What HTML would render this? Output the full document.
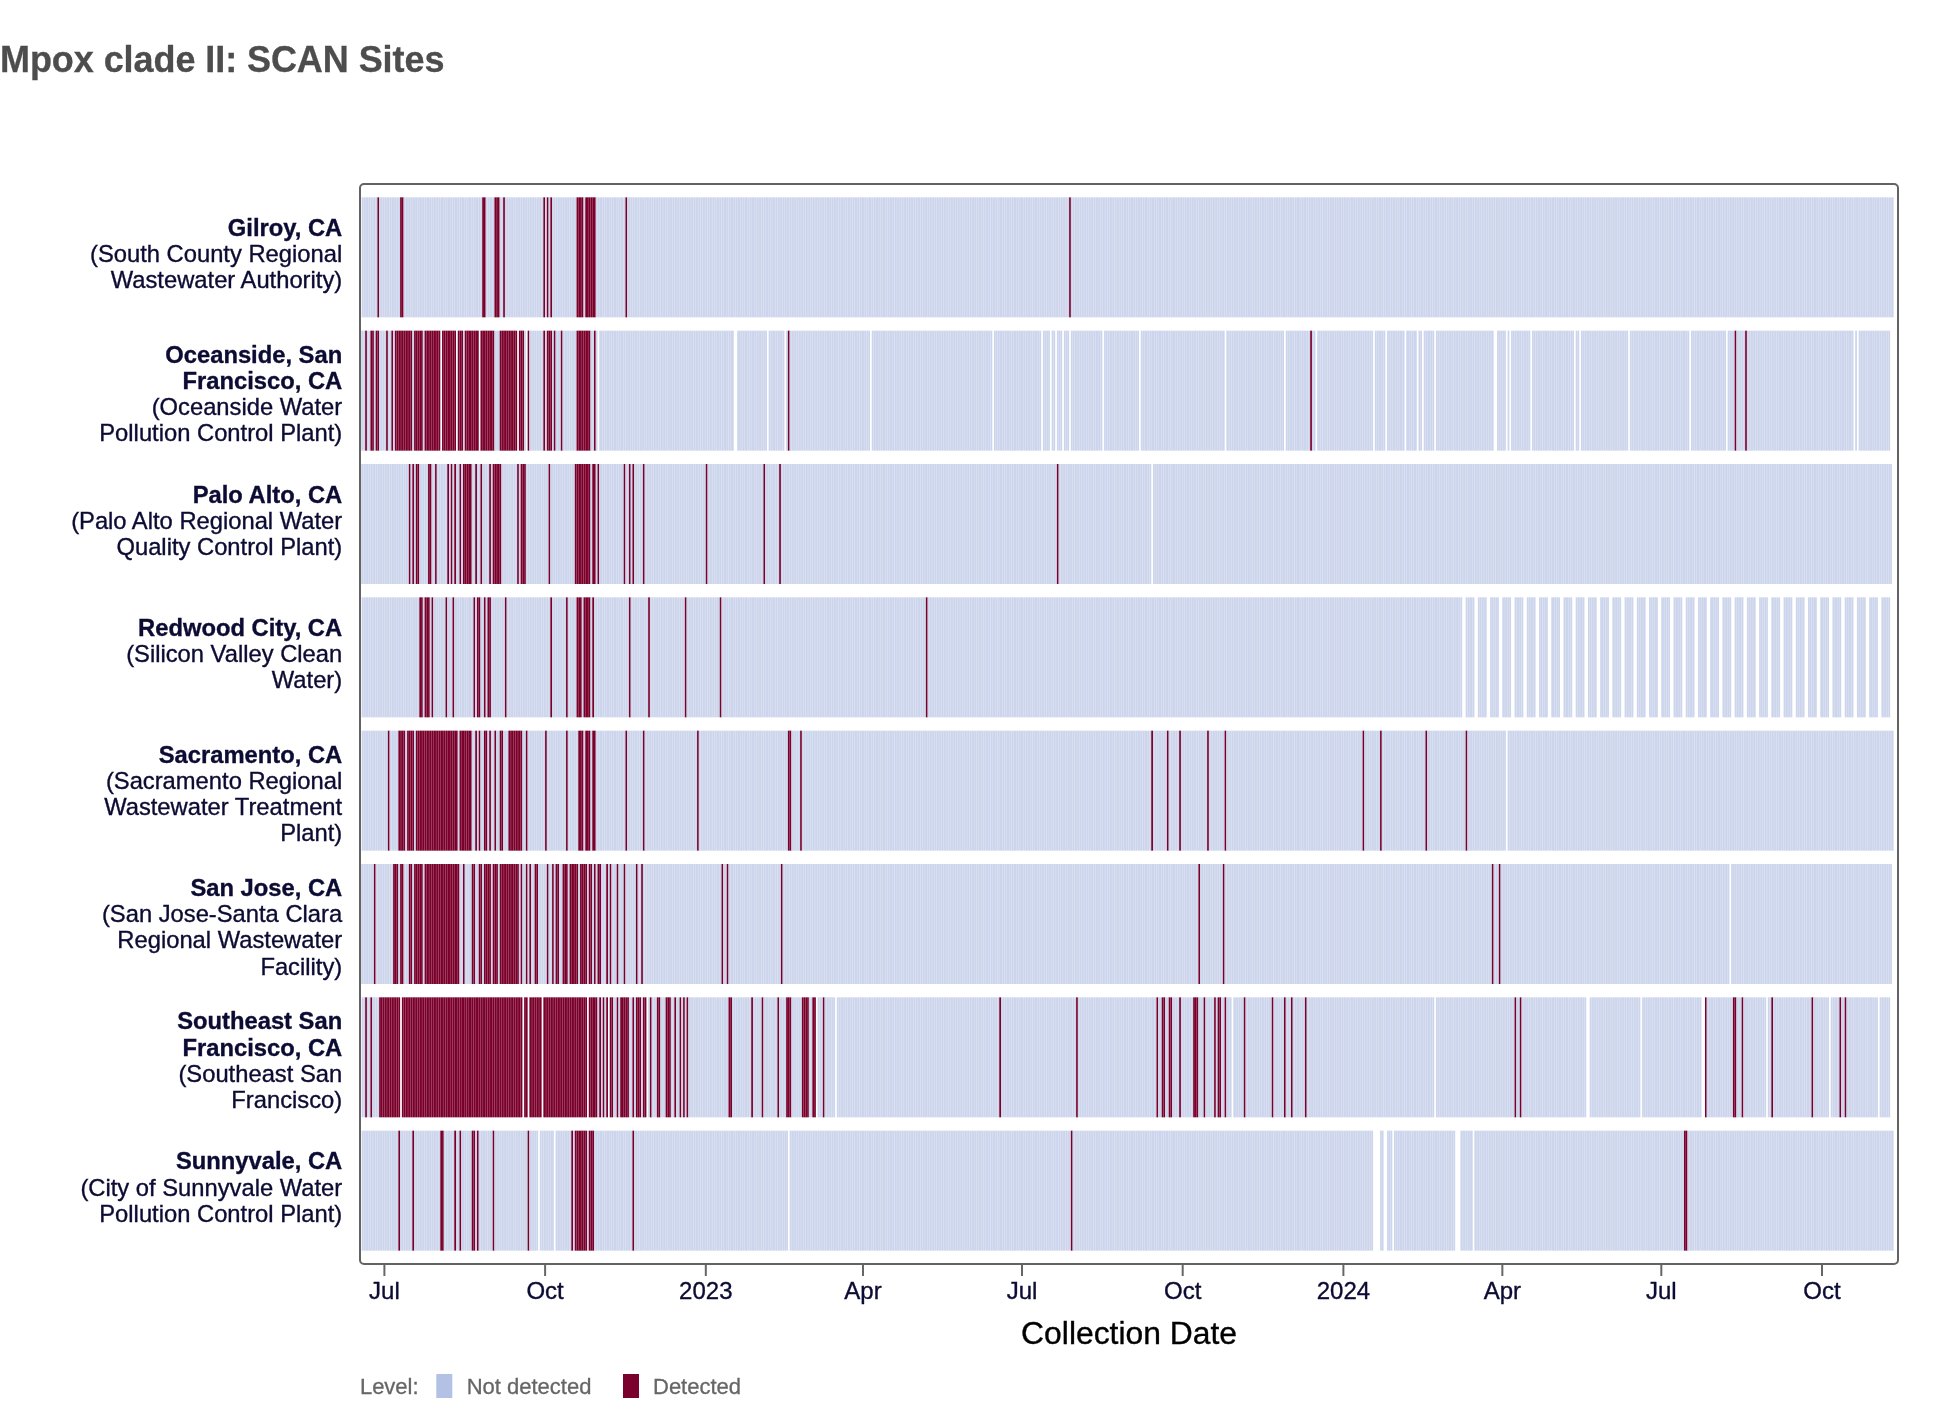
<!DOCTYPE html>
<html lang="en"><head><meta charset="utf-8"><title>Mpox clade II: SCAN Sites</title>
<style>
html,body{margin:0;padding:0;background:#fff}
body{width:1938px;height:1414px;overflow:hidden;position:relative;font-family:"Liberation Sans",sans-serif}
svg{position:absolute;left:0;top:0;display:block;will-change:transform;font-family:"Liberation Sans",sans-serif}
h1{will-change:transform;position:absolute;left:0.2px;top:39.4px;letter-spacing:-.07px;margin:0;font-size:36px;line-height:42px;font-weight:700;color:#4d4d4d;white-space:nowrap;-webkit-text-stroke:.3px #4d4d4d}
.c rect{width:1.7468px;height:120px;fill:#ccd5ec}
.c .d{fill:#7a002b}
.lab text{font-size:23.76px;fill:#0b0b33;text-anchor:end;stroke:#0b0b33;stroke-width:.35px}
.lab .b{font-weight:700}
.tk text{font-size:24px;fill:#0b0b33;text-anchor:middle;stroke:#0b0b33;stroke-width:.35px}
.tk line{stroke:#666;stroke-width:2}
.leg text{font-size:22px;fill:#666;stroke:#666;stroke-width:.3px}
</style></head>
<body>
<h1>Mpox clade II: SCAN Sites</h1>
<svg width="1938" height="1414" viewBox="0 0 1938 1414">
<g class="c" transform="translate(0,197.33)"><rect x="361.69"/><rect x="363.44"/><rect x="365.18"/><rect x="366.93"/><rect x="368.68"/><rect x="370.42"/><rect x="372.17"/><rect x="373.92"/><rect x="375.66"/><rect class="d" x="377.41"/><rect x="379.16"/><rect x="380.9"/><rect x="382.65"/><rect x="384.4"/><rect x="386.15"/><rect x="387.89"/><rect x="389.64"/><rect x="391.39"/><rect x="393.13"/><rect x="394.88"/><rect x="396.63"/><rect x="398.37"/><rect class="d" x="400.12"/><rect class="d" x="401.87"/><rect x="403.61"/><rect x="405.36"/><rect x="407.11"/><rect x="408.85"/><rect x="410.6"/><rect x="412.35"/><rect x="414.09"/><rect x="415.84"/><rect x="417.59"/><rect x="419.33"/><rect x="421.08"/><rect x="422.83"/><rect x="424.57"/><rect x="426.32"/><rect x="428.07"/><rect x="429.82"/><rect x="431.56"/><rect x="433.31"/><rect x="435.06"/><rect x="436.8"/><rect x="438.55"/><rect x="440.3"/><rect x="442.04"/><rect x="443.79"/><rect x="445.54"/><rect x="447.28"/><rect x="449.03"/><rect x="450.78"/><rect x="452.52"/><rect x="454.27"/><rect x="456.02"/><rect x="457.76"/><rect x="459.51"/><rect x="461.26"/><rect x="463"/><rect x="464.75"/><rect x="466.5"/><rect x="468.24"/><rect x="469.99"/><rect x="471.74"/><rect x="473.49"/><rect x="475.23"/><rect x="476.98"/><rect x="478.73"/><rect x="480.47"/><rect class="d" x="482.22"/><rect class="d" x="483.97"/><rect x="485.71"/><rect x="487.46"/><rect x="489.21"/><rect x="490.95"/><rect x="492.7"/><rect class="d" x="494.45"/><rect class="d" x="496.19"/><rect class="d" x="497.94"/><rect x="499.69"/><rect x="501.43"/><rect class="d" x="503.18"/><rect x="504.93"/><rect x="506.67"/><rect x="508.42"/><rect x="510.17"/><rect x="511.91"/><rect x="513.66"/><rect x="515.41"/><rect x="517.16"/><rect x="518.9"/><rect x="520.65"/><rect x="522.4"/><rect x="524.14"/><rect x="525.89"/><rect x="527.64"/><rect x="529.38"/><rect x="531.13"/><rect x="532.88"/><rect x="534.62"/><rect x="536.37"/><rect x="538.12"/><rect x="539.86"/><rect x="541.61"/><rect class="d" x="543.36"/><rect x="545.1"/><rect class="d" x="546.85"/><rect x="548.6"/><rect class="d" x="550.34"/><rect x="552.09"/><rect x="553.84"/><rect x="555.58"/><rect x="557.33"/><rect x="559.08"/><rect x="560.83"/><rect x="562.57"/><rect x="564.32"/><rect x="566.07"/><rect x="567.81"/><rect x="569.56"/><rect x="571.31"/><rect x="573.05"/><rect x="574.8"/><rect class="d" x="576.55"/><rect class="d" x="578.29"/><rect class="d" x="580.04"/><rect class="d" x="581.79"/><rect x="583.53"/><rect class="d" x="585.28"/><rect class="d" x="587.03"/><rect class="d" x="588.77"/><rect class="d" x="590.52"/><rect class="d" x="592.27"/><rect class="d" x="594.01"/><rect x="595.76"/><rect x="597.51"/><rect x="599.25"/><rect x="601"/><rect x="602.75"/><rect x="604.5"/><rect x="606.24"/><rect x="607.99"/><rect x="609.74"/><rect x="611.48"/><rect x="613.23"/><rect x="614.98"/><rect x="616.72"/><rect x="618.47"/><rect x="620.22"/><rect x="621.96"/><rect x="623.71"/><rect class="d" x="625.46"/><rect x="627.2"/><rect x="628.95"/><rect x="630.7"/><rect x="632.44"/><rect x="634.19"/><rect x="635.94"/><rect x="637.68"/><rect x="639.43"/><rect x="641.18"/><rect x="642.92"/><rect x="644.67"/><rect x="646.42"/><rect x="648.17"/><rect x="649.91"/><rect x="651.66"/><rect x="653.41"/><rect x="655.15"/><rect x="656.9"/><rect x="658.65"/><rect x="660.39"/><rect x="662.14"/><rect x="663.89"/><rect x="665.63"/><rect x="667.38"/><rect x="669.13"/><rect x="670.87"/><rect x="672.62"/><rect x="674.37"/><rect x="676.11"/><rect x="677.86"/><rect x="679.61"/><rect x="681.35"/><rect x="683.1"/><rect x="684.85"/><rect x="686.59"/><rect x="688.34"/><rect x="690.09"/><rect x="691.84"/><rect x="693.58"/><rect x="695.33"/><rect x="697.08"/><rect x="698.82"/><rect x="700.57"/><rect x="702.32"/><rect x="704.06"/><rect x="705.81"/><rect x="707.56"/><rect x="709.3"/><rect x="711.05"/><rect x="712.8"/><rect x="714.54"/><rect x="716.29"/><rect x="718.04"/><rect x="719.78"/><rect x="721.53"/><rect x="723.28"/><rect x="725.02"/><rect x="726.77"/><rect x="728.52"/><rect x="730.26"/><rect x="732.01"/><rect x="733.76"/><rect x="735.51"/><rect x="737.25"/><rect x="739"/><rect x="740.75"/><rect x="742.49"/><rect x="744.24"/><rect x="745.99"/><rect x="747.73"/><rect x="749.48"/><rect x="751.23"/><rect x="752.97"/><rect x="754.72"/><rect x="756.47"/><rect x="758.21"/><rect x="759.96"/><rect x="761.71"/><rect x="763.45"/><rect x="765.2"/><rect x="766.95"/><rect x="768.69"/><rect x="770.44"/><rect x="772.19"/><rect x="773.93"/><rect x="775.68"/><rect x="777.43"/><rect x="779.18"/><rect x="780.92"/><rect x="782.67"/><rect x="784.42"/><rect x="786.16"/><rect x="787.91"/><rect x="789.66"/><rect x="791.4"/><rect x="793.15"/><rect x="794.9"/><rect x="796.64"/><rect x="798.39"/><rect x="800.14"/><rect x="801.88"/><rect x="803.63"/><rect x="805.38"/><rect x="807.12"/><rect x="808.87"/><rect x="810.62"/><rect x="812.36"/><rect x="814.11"/><rect x="815.86"/><rect x="817.6"/><rect x="819.35"/><rect x="821.1"/><rect x="822.85"/><rect x="824.59"/><rect x="826.34"/><rect x="828.09"/><rect x="829.83"/><rect x="831.58"/><rect x="833.33"/><rect x="835.07"/><rect x="836.82"/><rect x="838.57"/><rect x="840.31"/><rect x="842.06"/><rect x="843.81"/><rect x="845.55"/><rect x="847.3"/><rect x="849.05"/><rect x="850.79"/><rect x="852.54"/><rect x="854.29"/><rect x="856.03"/><rect x="857.78"/><rect x="859.53"/><rect x="861.27"/><rect x="863.02"/><rect x="864.77"/><rect x="866.52"/><rect x="868.26"/><rect x="870.01"/><rect x="871.76"/><rect x="873.5"/><rect x="875.25"/><rect x="877"/><rect x="878.74"/><rect x="880.49"/><rect x="882.24"/><rect x="883.98"/><rect x="885.73"/><rect x="887.48"/><rect x="889.22"/><rect x="890.97"/><rect x="892.72"/><rect x="894.46"/><rect x="896.21"/><rect x="897.96"/><rect x="899.7"/><rect x="901.45"/><rect x="903.2"/><rect x="904.94"/><rect x="906.69"/><rect x="908.44"/><rect x="910.19"/><rect x="911.93"/><rect x="913.68"/><rect x="915.43"/><rect x="917.17"/><rect x="918.92"/><rect x="920.67"/><rect x="922.41"/><rect x="924.16"/><rect x="925.91"/><rect x="927.65"/><rect x="929.4"/><rect x="931.15"/><rect x="932.89"/><rect x="934.64"/><rect x="936.39"/><rect x="938.13"/><rect x="939.88"/><rect x="941.63"/><rect x="943.37"/><rect x="945.12"/><rect x="946.87"/><rect x="948.61"/><rect x="950.36"/><rect x="952.11"/><rect x="953.86"/><rect x="955.6"/><rect x="957.35"/><rect x="959.1"/><rect x="960.84"/><rect x="962.59"/><rect x="964.34"/><rect x="966.08"/><rect x="967.83"/><rect x="969.58"/><rect x="971.32"/><rect x="973.07"/><rect x="974.82"/><rect x="976.56"/><rect x="978.31"/><rect x="980.06"/><rect x="981.8"/><rect x="983.55"/><rect x="985.3"/><rect x="987.04"/><rect x="988.79"/><rect x="990.54"/><rect x="992.28"/><rect x="994.03"/><rect x="995.78"/><rect x="997.53"/><rect x="999.27"/><rect x="1001.02"/><rect x="1002.77"/><rect x="1004.51"/><rect x="1006.26"/><rect x="1008.01"/><rect x="1009.75"/><rect x="1011.5"/><rect x="1013.25"/><rect x="1014.99"/><rect x="1016.74"/><rect x="1018.49"/><rect x="1020.23"/><rect x="1021.98"/><rect x="1023.73"/><rect x="1025.47"/><rect x="1027.22"/><rect x="1028.97"/><rect x="1030.71"/><rect x="1032.46"/><rect x="1034.21"/><rect x="1035.95"/><rect x="1037.7"/><rect x="1039.45"/><rect x="1041.2"/><rect x="1042.94"/><rect x="1044.69"/><rect x="1046.44"/><rect x="1048.18"/><rect x="1049.93"/><rect x="1051.68"/><rect x="1053.42"/><rect x="1055.17"/><rect x="1056.92"/><rect x="1058.66"/><rect x="1060.41"/><rect x="1062.16"/><rect x="1063.9"/><rect x="1065.65"/><rect x="1067.4"/><rect class="d" x="1069.14"/><rect x="1070.89"/><rect x="1072.64"/><rect x="1074.38"/><rect x="1076.13"/><rect x="1077.88"/><rect x="1079.62"/><rect x="1081.37"/><rect x="1083.12"/><rect x="1084.87"/><rect x="1086.61"/><rect x="1088.36"/><rect x="1090.11"/><rect x="1091.85"/><rect x="1093.6"/><rect x="1095.35"/><rect x="1097.09"/><rect x="1098.84"/><rect x="1100.59"/><rect x="1102.33"/><rect x="1104.08"/><rect x="1105.83"/><rect x="1107.57"/><rect x="1109.32"/><rect x="1111.07"/><rect x="1112.81"/><rect x="1114.56"/><rect x="1116.31"/><rect x="1118.05"/><rect x="1119.8"/><rect x="1121.55"/><rect x="1123.29"/><rect x="1125.04"/><rect x="1126.79"/><rect x="1128.54"/><rect x="1130.28"/><rect x="1132.03"/><rect x="1133.78"/><rect x="1135.52"/><rect x="1137.27"/><rect x="1139.02"/><rect x="1140.76"/><rect x="1142.51"/><rect x="1144.26"/><rect x="1146"/><rect x="1147.75"/><rect x="1149.5"/><rect x="1151.24"/><rect x="1152.99"/><rect x="1154.74"/><rect x="1156.48"/><rect x="1158.23"/><rect x="1159.98"/><rect x="1161.72"/><rect x="1163.47"/><rect x="1165.22"/><rect x="1166.96"/><rect x="1168.71"/><rect x="1170.46"/><rect x="1172.21"/><rect x="1173.95"/><rect x="1175.7"/><rect x="1177.45"/><rect x="1179.19"/><rect x="1180.94"/><rect x="1182.69"/><rect x="1184.43"/><rect x="1186.18"/><rect x="1187.93"/><rect x="1189.67"/><rect x="1191.42"/><rect x="1193.17"/><rect x="1194.91"/><rect x="1196.66"/><rect x="1198.41"/><rect x="1200.15"/><rect x="1201.9"/><rect x="1203.65"/><rect x="1205.39"/><rect x="1207.14"/><rect x="1208.89"/><rect x="1210.63"/><rect x="1212.38"/><rect x="1214.13"/><rect x="1215.88"/><rect x="1217.62"/><rect x="1219.37"/><rect x="1221.12"/><rect x="1222.86"/><rect x="1224.61"/><rect x="1226.36"/><rect x="1228.1"/><rect x="1229.85"/><rect x="1231.6"/><rect x="1233.34"/><rect x="1235.09"/><rect x="1236.84"/><rect x="1238.58"/><rect x="1240.33"/><rect x="1242.08"/><rect x="1243.82"/><rect x="1245.57"/><rect x="1247.32"/><rect x="1249.06"/><rect x="1250.81"/><rect x="1252.56"/><rect x="1254.3"/><rect x="1256.05"/><rect x="1257.8"/><rect x="1259.55"/><rect x="1261.29"/><rect x="1263.04"/><rect x="1264.79"/><rect x="1266.53"/><rect x="1268.28"/><rect x="1270.03"/><rect x="1271.77"/><rect x="1273.52"/><rect x="1275.27"/><rect x="1277.01"/><rect x="1278.76"/><rect x="1280.51"/><rect x="1282.25"/><rect x="1284"/><rect x="1285.75"/><rect x="1287.49"/><rect x="1289.24"/><rect x="1290.99"/><rect x="1292.73"/><rect x="1294.48"/><rect x="1296.23"/><rect x="1297.97"/><rect x="1299.72"/><rect x="1301.47"/><rect x="1303.22"/><rect x="1304.96"/><rect x="1306.71"/><rect x="1308.46"/><rect x="1310.2"/><rect x="1311.95"/><rect x="1313.7"/><rect x="1315.44"/><rect x="1317.19"/><rect x="1318.94"/><rect x="1320.68"/><rect x="1322.43"/><rect x="1324.18"/><rect x="1325.92"/><rect x="1327.67"/><rect x="1329.42"/><rect x="1331.16"/><rect x="1332.91"/><rect x="1334.66"/><rect x="1336.4"/><rect x="1338.15"/><rect x="1339.9"/><rect x="1341.64"/><rect x="1343.39"/><rect x="1345.14"/><rect x="1346.89"/><rect x="1348.63"/><rect x="1350.38"/><rect x="1352.13"/><rect x="1353.87"/><rect x="1355.62"/><rect x="1357.37"/><rect x="1359.11"/><rect x="1360.86"/><rect x="1362.61"/><rect x="1364.35"/><rect x="1366.1"/><rect x="1367.85"/><rect x="1369.59"/><rect x="1371.34"/><rect x="1373.09"/><rect x="1374.83"/><rect x="1376.58"/><rect x="1378.33"/><rect x="1380.07"/><rect x="1381.82"/><rect x="1383.57"/><rect x="1385.31"/><rect x="1387.06"/><rect x="1388.81"/><rect x="1390.56"/><rect x="1392.3"/><rect x="1394.05"/><rect x="1395.8"/><rect x="1397.54"/><rect x="1399.29"/><rect x="1401.04"/><rect x="1402.78"/><rect x="1404.53"/><rect x="1406.28"/><rect x="1408.02"/><rect x="1409.77"/><rect x="1411.52"/><rect x="1413.26"/><rect x="1415.01"/><rect x="1416.76"/><rect x="1418.5"/><rect x="1420.25"/><rect x="1422"/><rect x="1423.74"/><rect x="1425.49"/><rect x="1427.24"/><rect x="1428.98"/><rect x="1430.73"/><rect x="1432.48"/><rect x="1434.23"/><rect x="1435.97"/><rect x="1437.72"/><rect x="1439.47"/><rect x="1441.21"/><rect x="1442.96"/><rect x="1444.71"/><rect x="1446.45"/><rect x="1448.2"/><rect x="1449.95"/><rect x="1451.69"/><rect x="1453.44"/><rect x="1455.19"/><rect x="1456.93"/><rect x="1458.68"/><rect x="1460.43"/><rect x="1462.17"/><rect x="1463.92"/><rect x="1465.67"/><rect x="1467.41"/><rect x="1469.16"/><rect x="1470.91"/><rect x="1472.65"/><rect x="1474.4"/><rect x="1476.15"/><rect x="1477.9"/><rect x="1479.64"/><rect x="1481.39"/><rect x="1483.14"/><rect x="1484.88"/><rect x="1486.63"/><rect x="1488.38"/><rect x="1490.12"/><rect x="1491.87"/><rect x="1493.62"/><rect x="1495.36"/><rect x="1497.11"/><rect x="1498.86"/><rect x="1500.6"/><rect x="1502.35"/><rect x="1504.1"/><rect x="1505.84"/><rect x="1507.59"/><rect x="1509.34"/><rect x="1511.08"/><rect x="1512.83"/><rect x="1514.58"/><rect x="1516.32"/><rect x="1518.07"/><rect x="1519.82"/><rect x="1521.57"/><rect x="1523.31"/><rect x="1525.06"/><rect x="1526.81"/><rect x="1528.55"/><rect x="1530.3"/><rect x="1532.05"/><rect x="1533.79"/><rect x="1535.54"/><rect x="1537.29"/><rect x="1539.03"/><rect x="1540.78"/><rect x="1542.53"/><rect x="1544.27"/><rect x="1546.02"/><rect x="1547.77"/><rect x="1549.51"/><rect x="1551.26"/><rect x="1553.01"/><rect x="1554.75"/><rect x="1556.5"/><rect x="1558.25"/><rect x="1559.99"/><rect x="1561.74"/><rect x="1563.49"/><rect x="1565.24"/><rect x="1566.98"/><rect x="1568.73"/><rect x="1570.48"/><rect x="1572.22"/><rect x="1573.97"/><rect x="1575.72"/><rect x="1577.46"/><rect x="1579.21"/><rect x="1580.96"/><rect x="1582.7"/><rect x="1584.45"/><rect x="1586.2"/><rect x="1587.94"/><rect x="1589.69"/><rect x="1591.44"/><rect x="1593.18"/><rect x="1594.93"/><rect x="1596.68"/><rect x="1598.42"/><rect x="1600.17"/><rect x="1601.92"/><rect x="1603.66"/><rect x="1605.41"/><rect x="1607.16"/><rect x="1608.91"/><rect x="1610.65"/><rect x="1612.4"/><rect x="1614.15"/><rect x="1615.89"/><rect x="1617.64"/><rect x="1619.39"/><rect x="1621.13"/><rect x="1622.88"/><rect x="1624.63"/><rect x="1626.37"/><rect x="1628.12"/><rect x="1629.87"/><rect x="1631.61"/><rect x="1633.36"/><rect x="1635.11"/><rect x="1636.85"/><rect x="1638.6"/><rect x="1640.35"/><rect x="1642.09"/><rect x="1643.84"/><rect x="1645.59"/><rect x="1647.33"/><rect x="1649.08"/><rect x="1650.83"/><rect x="1652.58"/><rect x="1654.32"/><rect x="1656.07"/><rect x="1657.82"/><rect x="1659.56"/><rect x="1661.31"/><rect x="1663.06"/><rect x="1664.8"/><rect x="1666.55"/><rect x="1668.3"/><rect x="1670.04"/><rect x="1671.79"/><rect x="1673.54"/><rect x="1675.28"/><rect x="1677.03"/><rect x="1678.78"/><rect x="1680.52"/><rect x="1682.27"/><rect x="1684.02"/><rect x="1685.76"/><rect x="1687.51"/><rect x="1689.26"/><rect x="1691"/><rect x="1692.75"/><rect x="1694.5"/><rect x="1696.25"/><rect x="1697.99"/><rect x="1699.74"/><rect x="1701.49"/><rect x="1703.23"/><rect x="1704.98"/><rect x="1706.73"/><rect x="1708.47"/><rect x="1710.22"/><rect x="1711.97"/><rect x="1713.71"/><rect x="1715.46"/><rect x="1717.21"/><rect x="1718.95"/><rect x="1720.7"/><rect x="1722.45"/><rect x="1724.19"/><rect x="1725.94"/><rect x="1727.69"/><rect x="1729.43"/><rect x="1731.18"/><rect x="1732.93"/><rect x="1734.67"/><rect x="1736.42"/><rect x="1738.17"/><rect x="1739.92"/><rect x="1741.66"/><rect x="1743.41"/><rect x="1745.16"/><rect x="1746.9"/><rect x="1748.65"/><rect x="1750.4"/><rect x="1752.14"/><rect x="1753.89"/><rect x="1755.64"/><rect x="1757.38"/><rect x="1759.13"/><rect x="1760.88"/><rect x="1762.62"/><rect x="1764.37"/><rect x="1766.12"/><rect x="1767.86"/><rect x="1769.61"/><rect x="1771.36"/><rect x="1773.1"/><rect x="1774.85"/><rect x="1776.6"/><rect x="1778.34"/><rect x="1780.09"/><rect x="1781.84"/><rect x="1783.59"/><rect x="1785.33"/><rect x="1787.08"/><rect x="1788.83"/><rect x="1790.57"/><rect x="1792.32"/><rect x="1794.07"/><rect x="1795.81"/><rect x="1797.56"/><rect x="1799.31"/><rect x="1801.05"/><rect x="1802.8"/><rect x="1804.55"/><rect x="1806.29"/><rect x="1808.04"/><rect x="1809.79"/><rect x="1811.53"/><rect x="1813.28"/><rect x="1815.03"/><rect x="1816.77"/><rect x="1818.52"/><rect x="1820.27"/><rect x="1822.01"/><rect x="1823.76"/><rect x="1825.51"/><rect x="1827.26"/><rect x="1829"/><rect x="1830.75"/><rect x="1832.5"/><rect x="1834.24"/><rect x="1835.99"/><rect x="1837.74"/><rect x="1839.48"/><rect x="1841.23"/><rect x="1842.98"/><rect x="1844.72"/><rect x="1846.47"/><rect x="1848.22"/><rect x="1849.96"/><rect x="1851.71"/><rect x="1853.46"/><rect x="1855.2"/><rect x="1856.95"/><rect x="1858.7"/><rect x="1860.44"/><rect x="1862.19"/><rect x="1863.94"/><rect x="1865.68"/><rect x="1867.43"/><rect x="1869.18"/><rect x="1870.93"/><rect x="1872.67"/><rect x="1874.42"/><rect x="1876.17"/><rect x="1877.91"/><rect x="1879.66"/><rect x="1881.41"/><rect x="1883.15"/><rect x="1884.9"/><rect x="1886.65"/><rect x="1888.39"/><rect x="1890.14"/><rect x="1891.89"/></g>
<g class="c" transform="translate(0,330.66)"><rect x="359.94"/><rect x="361.69"/><rect x="363.44"/><rect class="d" x="365.18"/><rect x="366.93"/><rect x="368.68"/><rect class="d" x="370.42"/><rect class="d" x="372.17"/><rect x="373.92"/><rect class="d" x="375.66"/><rect class="d" x="377.41"/><rect x="379.16"/><rect x="380.9"/><rect x="382.65"/><rect x="384.4"/><rect class="d" x="386.15"/><rect x="387.89"/><rect x="389.64"/><rect class="d" x="391.39"/><rect x="393.13"/><rect class="d" x="394.88"/><rect class="d" x="396.63"/><rect class="d" x="398.37"/><rect class="d" x="400.12"/><rect class="d" x="401.87"/><rect class="d" x="403.61"/><rect class="d" x="405.36"/><rect class="d" x="407.11"/><rect class="d" x="408.85"/><rect class="d" x="410.6"/><rect x="412.35"/><rect class="d" x="414.09"/><rect class="d" x="415.84"/><rect class="d" x="417.59"/><rect class="d" x="419.33"/><rect class="d" x="421.08"/><rect x="422.83"/><rect class="d" x="424.57"/><rect class="d" x="426.32"/><rect class="d" x="428.07"/><rect class="d" x="429.82"/><rect class="d" x="431.56"/><rect class="d" x="433.31"/><rect class="d" x="435.06"/><rect class="d" x="436.8"/><rect class="d" x="438.55"/><rect class="d" x="442.04"/><rect class="d" x="443.79"/><rect class="d" x="445.54"/><rect class="d" x="447.28"/><rect class="d" x="449.03"/><rect class="d" x="450.78"/><rect class="d" x="452.52"/><rect class="d" x="454.27"/><rect class="d" x="457.76"/><rect class="d" x="459.51"/><rect class="d" x="461.26"/><rect x="463"/><rect class="d" x="464.75"/><rect class="d" x="466.5"/><rect class="d" x="468.24"/><rect class="d" x="469.99"/><rect class="d" x="471.74"/><rect class="d" x="473.49"/><rect class="d" x="475.23"/><rect class="d" x="476.98"/><rect class="d" x="480.47"/><rect class="d" x="482.22"/><rect class="d" x="483.97"/><rect class="d" x="485.71"/><rect class="d" x="487.46"/><rect class="d" x="489.21"/><rect class="d" x="490.95"/><rect class="d" x="492.7"/><rect x="494.45"/><rect x="496.19"/><rect x="497.94"/><rect class="d" x="499.69"/><rect class="d" x="501.43"/><rect class="d" x="503.18"/><rect class="d" x="504.93"/><rect class="d" x="506.67"/><rect class="d" x="508.42"/><rect class="d" x="510.17"/><rect class="d" x="511.91"/><rect class="d" x="513.66"/><rect class="d" x="515.41"/><rect class="d" x="518.9"/><rect class="d" x="520.65"/><rect class="d" x="522.4"/><rect x="524.14"/><rect class="d" x="527.64"/><rect x="529.38"/><rect x="531.13"/><rect x="532.88"/><rect x="534.62"/><rect x="536.37"/><rect x="538.12"/><rect x="539.86"/><rect x="541.61"/><rect class="d" x="543.36"/><rect x="545.1"/><rect class="d" x="546.85"/><rect class="d" x="548.6"/><rect class="d" x="550.34"/><rect x="552.09"/><rect class="d" x="553.84"/><rect x="555.58"/><rect x="557.33"/><rect x="559.08"/><rect class="d" x="560.83"/><rect x="562.57"/><rect x="564.32"/><rect x="566.07"/><rect x="567.81"/><rect x="569.56"/><rect x="571.31"/><rect x="573.05"/><rect x="574.8"/><rect class="d" x="576.55"/><rect class="d" x="578.29"/><rect class="d" x="580.04"/><rect class="d" x="581.79"/><rect class="d" x="583.53"/><rect class="d" x="585.28"/><rect class="d" x="587.03"/><rect class="d" x="588.77"/><rect x="590.52"/><rect x="592.27"/><rect class="d" x="594.01"/><rect x="595.76"/><rect x="599.25"/><rect x="601"/><rect x="602.75"/><rect x="604.5"/><rect x="606.24"/><rect x="607.99"/><rect x="609.74"/><rect x="611.48"/><rect x="613.23"/><rect x="614.98"/><rect x="616.72"/><rect x="618.47"/><rect x="620.22"/><rect x="621.96"/><rect x="623.71"/><rect x="625.46"/><rect x="627.2"/><rect x="628.95"/><rect x="630.7"/><rect x="632.44"/><rect x="634.19"/><rect x="635.94"/><rect x="637.68"/><rect x="639.43"/><rect x="641.18"/><rect x="642.92"/><rect x="644.67"/><rect x="646.42"/><rect x="648.17"/><rect x="649.91"/><rect x="651.66"/><rect x="653.41"/><rect x="655.15"/><rect x="656.9"/><rect x="658.65"/><rect x="660.39"/><rect x="662.14"/><rect x="663.89"/><rect x="665.63"/><rect x="667.38"/><rect x="669.13"/><rect x="670.87"/><rect x="672.62"/><rect x="674.37"/><rect x="676.11"/><rect x="677.86"/><rect x="679.61"/><rect x="681.35"/><rect x="683.1"/><rect x="684.85"/><rect x="686.59"/><rect x="688.34"/><rect x="690.09"/><rect x="691.84"/><rect x="693.58"/><rect x="695.33"/><rect x="697.08"/><rect x="698.82"/><rect x="700.57"/><rect x="702.32"/><rect x="704.06"/><rect x="705.81"/><rect x="707.56"/><rect x="709.3"/><rect x="711.05"/><rect x="712.8"/><rect x="714.54"/><rect x="716.29"/><rect x="718.04"/><rect x="719.78"/><rect x="721.53"/><rect x="723.28"/><rect x="725.02"/><rect x="726.77"/><rect x="728.52"/><rect x="730.26"/><rect x="732.01"/><rect x="737.25"/><rect x="739"/><rect x="740.75"/><rect x="742.49"/><rect x="744.24"/><rect x="745.99"/><rect x="747.73"/><rect x="749.48"/><rect x="751.23"/><rect x="752.97"/><rect x="754.72"/><rect x="756.47"/><rect x="758.21"/><rect x="759.96"/><rect x="761.71"/><rect x="763.45"/><rect x="765.2"/><rect x="768.69"/><rect x="770.44"/><rect x="772.19"/><rect x="773.93"/><rect x="775.68"/><rect x="777.43"/><rect x="779.18"/><rect x="780.92"/><rect x="782.67"/><rect x="786.16"/><rect class="d" x="787.91"/><rect x="789.66"/><rect x="791.4"/><rect x="793.15"/><rect x="794.9"/><rect x="796.64"/><rect x="798.39"/><rect x="800.14"/><rect x="801.88"/><rect x="803.63"/><rect x="805.38"/><rect x="807.12"/><rect x="808.87"/><rect x="810.62"/><rect x="812.36"/><rect x="814.11"/><rect x="815.86"/><rect x="817.6"/><rect x="819.35"/><rect x="821.1"/><rect x="822.85"/><rect x="824.59"/><rect x="826.34"/><rect x="828.09"/><rect x="829.83"/><rect x="831.58"/><rect x="833.33"/><rect x="835.07"/><rect x="836.82"/><rect x="838.57"/><rect x="840.31"/><rect x="842.06"/><rect x="843.81"/><rect x="845.55"/><rect x="847.3"/><rect x="849.05"/><rect x="850.79"/><rect x="852.54"/><rect x="854.29"/><rect x="856.03"/><rect x="857.78"/><rect x="859.53"/><rect x="861.27"/><rect x="863.02"/><rect x="864.77"/><rect x="866.52"/><rect x="868.26"/><rect x="871.76"/><rect x="873.5"/><rect x="875.25"/><rect x="877"/><rect x="878.74"/><rect x="880.49"/><rect x="882.24"/><rect x="883.98"/><rect x="885.73"/><rect x="887.48"/><rect x="889.22"/><rect x="890.97"/><rect x="892.72"/><rect x="894.46"/><rect x="896.21"/><rect x="897.96"/><rect x="899.7"/><rect x="901.45"/><rect x="903.2"/><rect x="904.94"/><rect x="906.69"/><rect x="908.44"/><rect x="910.19"/><rect x="911.93"/><rect x="913.68"/><rect x="915.43"/><rect x="917.17"/><rect x="918.92"/><rect x="920.67"/><rect x="922.41"/><rect x="924.16"/><rect x="925.91"/><rect x="927.65"/><rect x="929.4"/><rect x="931.15"/><rect x="932.89"/><rect x="934.64"/><rect x="936.39"/><rect x="938.13"/><rect x="939.88"/><rect x="941.63"/><rect x="943.37"/><rect x="945.12"/><rect x="946.87"/><rect x="948.61"/><rect x="950.36"/><rect x="952.11"/><rect x="953.86"/><rect x="955.6"/><rect x="957.35"/><rect x="959.1"/><rect x="960.84"/><rect x="962.59"/><rect x="964.34"/><rect x="966.08"/><rect x="967.83"/><rect x="969.58"/><rect x="971.32"/><rect x="973.07"/><rect x="974.82"/><rect x="976.56"/><rect x="978.31"/><rect x="980.06"/><rect x="981.8"/><rect x="983.55"/><rect x="985.3"/><rect x="987.04"/><rect x="988.79"/><rect x="990.54"/><rect x="994.03"/><rect x="995.78"/><rect x="997.53"/><rect x="999.27"/><rect x="1001.02"/><rect x="1002.77"/><rect x="1004.51"/><rect x="1006.26"/><rect x="1008.01"/><rect x="1009.75"/><rect x="1011.5"/><rect x="1013.25"/><rect x="1014.99"/><rect x="1016.74"/><rect x="1018.49"/><rect x="1020.23"/><rect x="1021.98"/><rect x="1023.73"/><rect x="1025.47"/><rect x="1027.22"/><rect x="1028.97"/><rect x="1030.71"/><rect x="1032.46"/><rect x="1034.21"/><rect x="1035.95"/><rect x="1037.7"/><rect x="1039.45"/><rect x="1042.94"/><rect x="1044.69"/><rect x="1046.44"/><rect x="1048.18"/><rect x="1051.68"/><rect x="1053.42"/><rect x="1056.92"/><rect x="1058.66"/><rect x="1060.41"/><rect x="1063.9"/><rect x="1065.65"/><rect x="1067.4"/><rect x="1070.89"/><rect x="1072.64"/><rect x="1074.38"/><rect x="1076.13"/><rect x="1077.88"/><rect x="1079.62"/><rect x="1081.37"/><rect x="1083.12"/><rect x="1084.87"/><rect x="1086.61"/><rect x="1088.36"/><rect x="1090.11"/><rect x="1091.85"/><rect x="1093.6"/><rect x="1095.35"/><rect x="1097.09"/><rect x="1098.84"/><rect x="1100.59"/><rect x="1104.08"/><rect x="1105.83"/><rect x="1107.57"/><rect x="1109.32"/><rect x="1111.07"/><rect x="1112.81"/><rect x="1114.56"/><rect x="1116.31"/><rect x="1118.05"/><rect x="1119.8"/><rect x="1121.55"/><rect x="1123.29"/><rect x="1125.04"/><rect x="1126.79"/><rect x="1128.54"/><rect x="1130.28"/><rect x="1132.03"/><rect x="1133.78"/><rect x="1135.52"/><rect x="1137.27"/><rect x="1140.76"/><rect x="1142.51"/><rect x="1144.26"/><rect x="1146"/><rect x="1147.75"/><rect x="1149.5"/><rect x="1151.24"/><rect x="1152.99"/><rect x="1154.74"/><rect x="1156.48"/><rect x="1158.23"/><rect x="1159.98"/><rect x="1161.72"/><rect x="1163.47"/><rect x="1165.22"/><rect x="1166.96"/><rect x="1168.71"/><rect x="1170.46"/><rect x="1172.21"/><rect x="1173.95"/><rect x="1175.7"/><rect x="1177.45"/><rect x="1179.19"/><rect x="1180.94"/><rect x="1182.69"/><rect x="1184.43"/><rect x="1186.18"/><rect x="1187.93"/><rect x="1189.67"/><rect x="1191.42"/><rect x="1193.17"/><rect x="1194.91"/><rect x="1196.66"/><rect x="1198.41"/><rect x="1200.15"/><rect x="1201.9"/><rect x="1203.65"/><rect x="1205.39"/><rect x="1207.14"/><rect x="1208.89"/><rect x="1210.63"/><rect x="1212.38"/><rect x="1214.13"/><rect x="1215.88"/><rect x="1217.62"/><rect x="1219.37"/><rect x="1221.12"/><rect x="1222.86"/><rect x="1226.36"/><rect x="1228.1"/><rect x="1229.85"/><rect x="1231.6"/><rect x="1233.34"/><rect x="1235.09"/><rect x="1236.84"/><rect x="1238.58"/><rect x="1240.33"/><rect x="1242.08"/><rect x="1243.82"/><rect x="1245.57"/><rect x="1247.32"/><rect x="1249.06"/><rect x="1250.81"/><rect x="1252.56"/><rect x="1254.3"/><rect x="1256.05"/><rect x="1257.8"/><rect x="1259.55"/><rect x="1261.29"/><rect x="1263.04"/><rect x="1264.79"/><rect x="1266.53"/><rect x="1268.28"/><rect x="1270.03"/><rect x="1271.77"/><rect x="1273.52"/><rect x="1275.27"/><rect x="1277.01"/><rect x="1278.76"/><rect x="1280.51"/><rect x="1282.25"/><rect x="1285.75"/><rect x="1287.49"/><rect x="1289.24"/><rect x="1290.99"/><rect x="1292.73"/><rect x="1294.48"/><rect x="1296.23"/><rect x="1297.97"/><rect x="1299.72"/><rect x="1301.47"/><rect x="1303.22"/><rect x="1304.96"/><rect x="1306.71"/><rect x="1308.46"/><rect class="d" x="1310.2"/><rect x="1311.95"/><rect x="1313.7"/><rect x="1317.19"/><rect x="1318.94"/><rect x="1320.68"/><rect x="1322.43"/><rect x="1324.18"/><rect x="1325.92"/><rect x="1327.67"/><rect x="1329.42"/><rect x="1331.16"/><rect x="1332.91"/><rect x="1334.66"/><rect x="1336.4"/><rect x="1338.15"/><rect x="1339.9"/><rect x="1341.64"/><rect x="1343.39"/><rect x="1345.14"/><rect x="1346.89"/><rect x="1348.63"/><rect x="1350.38"/><rect x="1352.13"/><rect x="1353.87"/><rect x="1355.62"/><rect x="1357.37"/><rect x="1359.11"/><rect x="1360.86"/><rect x="1362.61"/><rect x="1364.35"/><rect x="1366.1"/><rect x="1367.85"/><rect x="1369.59"/><rect x="1371.34"/><rect x="1374.83"/><rect x="1376.58"/><rect x="1378.33"/><rect x="1380.07"/><rect x="1381.82"/><rect x="1383.57"/><rect x="1387.06"/><rect x="1388.81"/><rect x="1390.56"/><rect x="1392.3"/><rect x="1394.05"/><rect x="1395.8"/><rect x="1397.54"/><rect x="1399.29"/><rect x="1401.04"/><rect x="1402.78"/><rect x="1406.28"/><rect x="1408.02"/><rect x="1409.77"/><rect x="1411.52"/><rect x="1413.26"/><rect x="1415.01"/><rect x="1418.5"/><rect x="1420.25"/><rect x="1423.74"/><rect x="1425.49"/><rect x="1427.24"/><rect x="1428.98"/><rect x="1430.73"/><rect x="1432.48"/><rect x="1435.97"/><rect x="1437.72"/><rect x="1439.47"/><rect x="1441.21"/><rect x="1442.96"/><rect x="1444.71"/><rect x="1446.45"/><rect x="1448.2"/><rect x="1449.95"/><rect x="1451.69"/><rect x="1453.44"/><rect x="1455.19"/><rect x="1456.93"/><rect x="1458.68"/><rect x="1460.43"/><rect x="1462.17"/><rect x="1463.92"/><rect x="1465.67"/><rect x="1467.41"/><rect x="1469.16"/><rect x="1470.91"/><rect x="1472.65"/><rect x="1474.4"/><rect x="1476.15"/><rect x="1477.9"/><rect x="1479.64"/><rect x="1481.39"/><rect x="1483.14"/><rect x="1484.88"/><rect x="1486.63"/><rect x="1488.38"/><rect x="1490.12"/><rect x="1491.87"/><rect x="1497.11"/><rect x="1498.86"/><rect x="1500.6"/><rect x="1502.35"/><rect x="1504.1"/><rect x="1507.59"/><rect x="1511.08"/><rect x="1512.83"/><rect x="1514.58"/><rect x="1516.32"/><rect x="1518.07"/><rect x="1519.82"/><rect x="1521.57"/><rect x="1523.31"/><rect x="1525.06"/><rect x="1526.81"/><rect x="1528.55"/><rect x="1532.05"/><rect x="1533.79"/><rect x="1535.54"/><rect x="1537.29"/><rect x="1539.03"/><rect x="1540.78"/><rect x="1542.53"/><rect x="1544.27"/><rect x="1546.02"/><rect x="1547.77"/><rect x="1549.51"/><rect x="1551.26"/><rect x="1553.01"/><rect x="1554.75"/><rect x="1556.5"/><rect x="1558.25"/><rect x="1559.99"/><rect x="1561.74"/><rect x="1563.49"/><rect x="1565.24"/><rect x="1566.98"/><rect x="1568.73"/><rect x="1570.48"/><rect x="1572.22"/><rect x="1575.72"/><rect x="1577.46"/><rect x="1580.96"/><rect x="1582.7"/><rect x="1584.45"/><rect x="1586.2"/><rect x="1587.94"/><rect x="1589.69"/><rect x="1591.44"/><rect x="1593.18"/><rect x="1594.93"/><rect x="1596.68"/><rect x="1598.42"/><rect x="1600.17"/><rect x="1601.92"/><rect x="1603.66"/><rect x="1605.41"/><rect x="1607.16"/><rect x="1608.91"/><rect x="1610.65"/><rect x="1612.4"/><rect x="1614.15"/><rect x="1615.89"/><rect x="1617.64"/><rect x="1619.39"/><rect x="1621.13"/><rect x="1622.88"/><rect x="1624.63"/><rect x="1626.37"/><rect x="1629.87"/><rect x="1631.61"/><rect x="1633.36"/><rect x="1635.11"/><rect x="1636.85"/><rect x="1638.6"/><rect x="1640.35"/><rect x="1642.09"/><rect x="1643.84"/><rect x="1645.59"/><rect x="1647.33"/><rect x="1649.08"/><rect x="1650.83"/><rect x="1652.58"/><rect x="1654.32"/><rect x="1656.07"/><rect x="1657.82"/><rect x="1659.56"/><rect x="1661.31"/><rect x="1663.06"/><rect x="1664.8"/><rect x="1666.55"/><rect x="1668.3"/><rect x="1670.04"/><rect x="1671.79"/><rect x="1673.54"/><rect x="1675.28"/><rect x="1677.03"/><rect x="1678.78"/><rect x="1680.52"/><rect x="1682.27"/><rect x="1684.02"/><rect x="1685.76"/><rect x="1687.51"/><rect x="1691"/><rect x="1692.75"/><rect x="1694.5"/><rect x="1696.25"/><rect x="1697.99"/><rect x="1699.74"/><rect x="1701.49"/><rect x="1703.23"/><rect x="1704.98"/><rect x="1706.73"/><rect x="1708.47"/><rect x="1710.22"/><rect x="1711.97"/><rect x="1713.71"/><rect x="1715.46"/><rect x="1717.21"/><rect x="1718.95"/><rect x="1720.7"/><rect x="1722.45"/><rect x="1724.19"/><rect x="1727.69"/><rect x="1729.43"/><rect x="1731.18"/><rect x="1732.93"/><rect class="d" x="1734.67"/><rect x="1736.42"/><rect x="1738.17"/><rect x="1739.92"/><rect x="1741.66"/><rect x="1743.41"/><rect class="d" x="1745.16"/><rect x="1746.9"/><rect x="1748.65"/><rect x="1750.4"/><rect x="1752.14"/><rect x="1753.89"/><rect x="1755.64"/><rect x="1757.38"/><rect x="1759.13"/><rect x="1760.88"/><rect x="1762.62"/><rect x="1764.37"/><rect x="1766.12"/><rect x="1767.86"/><rect x="1769.61"/><rect x="1771.36"/><rect x="1773.1"/><rect x="1774.85"/><rect x="1776.6"/><rect x="1778.34"/><rect x="1780.09"/><rect x="1781.84"/><rect x="1783.59"/><rect x="1785.33"/><rect x="1787.08"/><rect x="1788.83"/><rect x="1790.57"/><rect x="1792.32"/><rect x="1794.07"/><rect x="1795.81"/><rect x="1797.56"/><rect x="1799.31"/><rect x="1801.05"/><rect x="1802.8"/><rect x="1804.55"/><rect x="1806.29"/><rect x="1808.04"/><rect x="1809.79"/><rect x="1811.53"/><rect x="1813.28"/><rect x="1815.03"/><rect x="1816.77"/><rect x="1818.52"/><rect x="1820.27"/><rect x="1822.01"/><rect x="1823.76"/><rect x="1825.51"/><rect x="1827.26"/><rect x="1829"/><rect x="1830.75"/><rect x="1832.5"/><rect x="1834.24"/><rect x="1835.99"/><rect x="1837.74"/><rect x="1839.48"/><rect x="1841.23"/><rect x="1842.98"/><rect x="1844.72"/><rect x="1846.47"/><rect x="1848.22"/><rect x="1849.96"/><rect x="1851.71"/><rect x="1855.2"/><rect x="1858.7"/><rect x="1860.44"/><rect x="1862.19"/><rect x="1863.94"/><rect x="1865.68"/><rect x="1867.43"/><rect x="1869.18"/><rect x="1870.93"/><rect x="1872.67"/><rect x="1874.42"/><rect x="1876.17"/><rect x="1877.91"/><rect x="1879.66"/><rect x="1881.41"/><rect x="1883.15"/><rect x="1884.9"/><rect x="1886.65"/><rect x="1888.39"/></g>
<g class="c" transform="translate(0,464)"><rect x="359.94"/><rect x="361.69"/><rect x="363.44"/><rect x="365.18"/><rect x="366.93"/><rect x="368.68"/><rect x="370.42"/><rect x="372.17"/><rect x="373.92"/><rect x="375.66"/><rect x="377.41"/><rect x="379.16"/><rect x="380.9"/><rect x="382.65"/><rect x="384.4"/><rect x="386.15"/><rect x="387.89"/><rect x="389.64"/><rect x="391.39"/><rect x="393.13"/><rect x="394.88"/><rect x="396.63"/><rect x="398.37"/><rect x="400.12"/><rect x="401.87"/><rect x="403.61"/><rect x="405.36"/><rect x="407.11"/><rect class="d" x="408.85"/><rect x="410.6"/><rect class="d" x="412.35"/><rect x="414.09"/><rect class="d" x="415.84"/><rect class="d" x="417.59"/><rect x="419.33"/><rect x="421.08"/><rect x="422.83"/><rect x="424.57"/><rect x="426.32"/><rect class="d" x="428.07"/><rect class="d" x="429.82"/><rect x="431.56"/><rect x="433.31"/><rect class="d" x="435.06"/><rect x="436.8"/><rect x="438.55"/><rect x="440.3"/><rect x="442.04"/><rect x="443.79"/><rect x="445.54"/><rect class="d" x="447.28"/><rect x="449.03"/><rect class="d" x="450.78"/><rect x="452.52"/><rect class="d" x="454.27"/><rect x="456.02"/><rect x="457.76"/><rect class="d" x="459.51"/><rect x="461.26"/><rect class="d" x="463"/><rect class="d" x="464.75"/><rect class="d" x="466.5"/><rect class="d" x="468.24"/><rect class="d" x="469.99"/><rect x="471.74"/><rect x="473.49"/><rect class="d" x="475.23"/><rect x="476.98"/><rect x="478.73"/><rect class="d" x="480.47"/><rect x="482.22"/><rect x="483.97"/><rect x="485.71"/><rect x="487.46"/><rect class="d" x="489.21"/><rect x="490.95"/><rect class="d" x="492.7"/><rect class="d" x="494.45"/><rect class="d" x="496.19"/><rect class="d" x="497.94"/><rect class="d" x="499.69"/><rect x="501.43"/><rect x="503.18"/><rect x="504.93"/><rect x="506.67"/><rect x="508.42"/><rect x="510.17"/><rect x="511.91"/><rect x="513.66"/><rect x="515.41"/><rect class="d" x="517.16"/><rect x="518.9"/><rect class="d" x="520.65"/><rect class="d" x="522.4"/><rect class="d" x="524.14"/><rect x="525.89"/><rect x="527.64"/><rect x="529.38"/><rect x="531.13"/><rect x="532.88"/><rect x="534.62"/><rect x="536.37"/><rect x="538.12"/><rect x="539.86"/><rect x="541.61"/><rect x="543.36"/><rect x="545.1"/><rect x="546.85"/><rect class="d" x="548.6"/><rect x="550.34"/><rect x="552.09"/><rect x="553.84"/><rect x="555.58"/><rect x="557.33"/><rect x="559.08"/><rect x="560.83"/><rect x="562.57"/><rect x="564.32"/><rect x="566.07"/><rect x="567.81"/><rect x="569.56"/><rect x="571.31"/><rect x="573.05"/><rect class="d" x="574.8"/><rect class="d" x="576.55"/><rect class="d" x="578.29"/><rect class="d" x="580.04"/><rect class="d" x="581.79"/><rect class="d" x="583.53"/><rect class="d" x="585.28"/><rect class="d" x="587.03"/><rect class="d" x="588.77"/><rect x="590.52"/><rect class="d" x="592.27"/><rect class="d" x="594.01"/><rect x="595.76"/><rect class="d" x="597.51"/><rect x="599.25"/><rect x="601"/><rect x="602.75"/><rect x="604.5"/><rect x="606.24"/><rect x="607.99"/><rect x="609.74"/><rect x="611.48"/><rect x="613.23"/><rect x="614.98"/><rect x="616.72"/><rect x="618.47"/><rect x="620.22"/><rect x="621.96"/><rect class="d" x="623.71"/><rect x="625.46"/><rect x="627.2"/><rect class="d" x="628.95"/><rect x="630.7"/><rect class="d" x="632.44"/><rect x="634.19"/><rect x="635.94"/><rect x="637.68"/><rect x="639.43"/><rect x="641.18"/><rect class="d" x="642.92"/><rect x="644.67"/><rect x="646.42"/><rect x="648.17"/><rect x="649.91"/><rect x="651.66"/><rect x="653.41"/><rect x="655.15"/><rect x="656.9"/><rect x="658.65"/><rect x="660.39"/><rect x="662.14"/><rect x="663.89"/><rect x="665.63"/><rect x="667.38"/><rect x="669.13"/><rect x="670.87"/><rect x="672.62"/><rect x="674.37"/><rect x="676.11"/><rect x="677.86"/><rect x="679.61"/><rect x="681.35"/><rect x="683.1"/><rect x="684.85"/><rect x="686.59"/><rect x="688.34"/><rect x="690.09"/><rect x="691.84"/><rect x="693.58"/><rect x="695.33"/><rect x="697.08"/><rect x="698.82"/><rect x="700.57"/><rect x="702.32"/><rect x="704.06"/><rect class="d" x="705.81"/><rect x="707.56"/><rect x="709.3"/><rect x="711.05"/><rect x="712.8"/><rect x="714.54"/><rect x="716.29"/><rect x="718.04"/><rect x="719.78"/><rect x="721.53"/><rect x="723.28"/><rect x="725.02"/><rect x="726.77"/><rect x="728.52"/><rect x="730.26"/><rect x="732.01"/><rect x="733.76"/><rect x="735.51"/><rect x="737.25"/><rect x="739"/><rect x="740.75"/><rect x="742.49"/><rect x="744.24"/><rect x="745.99"/><rect x="747.73"/><rect x="749.48"/><rect x="751.23"/><rect x="752.97"/><rect x="754.72"/><rect x="756.47"/><rect x="758.21"/><rect x="759.96"/><rect x="761.71"/><rect class="d" x="763.45"/><rect x="765.2"/><rect x="766.95"/><rect x="768.69"/><rect x="770.44"/><rect x="772.19"/><rect x="773.93"/><rect x="775.68"/><rect x="777.43"/><rect class="d" x="779.18"/><rect x="780.92"/><rect x="782.67"/><rect x="784.42"/><rect x="786.16"/><rect x="787.91"/><rect x="789.66"/><rect x="791.4"/><rect x="793.15"/><rect x="794.9"/><rect x="796.64"/><rect x="798.39"/><rect x="800.14"/><rect x="801.88"/><rect x="803.63"/><rect x="805.38"/><rect x="807.12"/><rect x="808.87"/><rect x="810.62"/><rect x="812.36"/><rect x="814.11"/><rect x="815.86"/><rect x="817.6"/><rect x="819.35"/><rect x="821.1"/><rect x="822.85"/><rect x="824.59"/><rect x="826.34"/><rect x="828.09"/><rect x="829.83"/><rect x="831.58"/><rect x="833.33"/><rect x="835.07"/><rect x="836.82"/><rect x="838.57"/><rect x="840.31"/><rect x="842.06"/><rect x="843.81"/><rect x="845.55"/><rect x="847.3"/><rect x="849.05"/><rect x="850.79"/><rect x="852.54"/><rect x="854.29"/><rect x="856.03"/><rect x="857.78"/><rect x="859.53"/><rect x="861.27"/><rect x="863.02"/><rect x="864.77"/><rect x="866.52"/><rect x="868.26"/><rect x="870.01"/><rect x="871.76"/><rect x="873.5"/><rect x="875.25"/><rect x="877"/><rect x="878.74"/><rect x="880.49"/><rect x="882.24"/><rect x="883.98"/><rect x="885.73"/><rect x="887.48"/><rect x="889.22"/><rect x="890.97"/><rect x="892.72"/><rect x="894.46"/><rect x="896.21"/><rect x="897.96"/><rect x="899.7"/><rect x="901.45"/><rect x="903.2"/><rect x="904.94"/><rect x="906.69"/><rect x="908.44"/><rect x="910.19"/><rect x="911.93"/><rect x="913.68"/><rect x="915.43"/><rect x="917.17"/><rect x="918.92"/><rect x="920.67"/><rect x="922.41"/><rect x="924.16"/><rect x="925.91"/><rect x="927.65"/><rect x="929.4"/><rect x="931.15"/><rect x="932.89"/><rect x="934.64"/><rect x="936.39"/><rect x="938.13"/><rect x="939.88"/><rect x="941.63"/><rect x="943.37"/><rect x="945.12"/><rect x="946.87"/><rect x="948.61"/><rect x="950.36"/><rect x="952.11"/><rect x="953.86"/><rect x="955.6"/><rect x="957.35"/><rect x="959.1"/><rect x="960.84"/><rect x="962.59"/><rect x="964.34"/><rect x="966.08"/><rect x="967.83"/><rect x="969.58"/><rect x="971.32"/><rect x="973.07"/><rect x="974.82"/><rect x="976.56"/><rect x="978.31"/><rect x="980.06"/><rect x="981.8"/><rect x="983.55"/><rect x="985.3"/><rect x="987.04"/><rect x="988.79"/><rect x="990.54"/><rect x="992.28"/><rect x="994.03"/><rect x="995.78"/><rect x="997.53"/><rect x="999.27"/><rect x="1001.02"/><rect x="1002.77"/><rect x="1004.51"/><rect x="1006.26"/><rect x="1008.01"/><rect x="1009.75"/><rect x="1011.5"/><rect x="1013.25"/><rect x="1014.99"/><rect x="1016.74"/><rect x="1018.49"/><rect x="1020.23"/><rect x="1021.98"/><rect x="1023.73"/><rect x="1025.47"/><rect x="1027.22"/><rect x="1028.97"/><rect x="1030.71"/><rect x="1032.46"/><rect x="1034.21"/><rect x="1035.95"/><rect x="1037.7"/><rect x="1039.45"/><rect x="1041.2"/><rect x="1042.94"/><rect x="1044.69"/><rect x="1046.44"/><rect x="1048.18"/><rect x="1049.93"/><rect x="1051.68"/><rect x="1053.42"/><rect x="1055.17"/><rect class="d" x="1056.92"/><rect x="1058.66"/><rect x="1060.41"/><rect x="1062.16"/><rect x="1063.9"/><rect x="1065.65"/><rect x="1067.4"/><rect x="1069.14"/><rect x="1070.89"/><rect x="1072.64"/><rect x="1074.38"/><rect x="1076.13"/><rect x="1077.88"/><rect x="1079.62"/><rect x="1081.37"/><rect x="1083.12"/><rect x="1084.87"/><rect x="1086.61"/><rect x="1088.36"/><rect x="1090.11"/><rect x="1091.85"/><rect x="1093.6"/><rect x="1095.35"/><rect x="1097.09"/><rect x="1098.84"/><rect x="1100.59"/><rect x="1102.33"/><rect x="1104.08"/><rect x="1105.83"/><rect x="1107.57"/><rect x="1109.32"/><rect x="1111.07"/><rect x="1112.81"/><rect x="1114.56"/><rect x="1116.31"/><rect x="1118.05"/><rect x="1119.8"/><rect x="1121.55"/><rect x="1123.29"/><rect x="1125.04"/><rect x="1126.79"/><rect x="1128.54"/><rect x="1130.28"/><rect x="1132.03"/><rect x="1133.78"/><rect x="1135.52"/><rect x="1137.27"/><rect x="1139.02"/><rect x="1140.76"/><rect x="1142.51"/><rect x="1144.26"/><rect x="1146"/><rect x="1147.75"/><rect x="1149.5"/><rect x="1152.99"/><rect x="1154.74"/><rect x="1156.48"/><rect x="1158.23"/><rect x="1159.98"/><rect x="1161.72"/><rect x="1163.47"/><rect x="1165.22"/><rect x="1166.96"/><rect x="1168.71"/><rect x="1170.46"/><rect x="1172.21"/><rect x="1173.95"/><rect x="1175.7"/><rect x="1177.45"/><rect x="1179.19"/><rect x="1180.94"/><rect x="1182.69"/><rect x="1184.43"/><rect x="1186.18"/><rect x="1187.93"/><rect x="1189.67"/><rect x="1191.42"/><rect x="1193.17"/><rect x="1194.91"/><rect x="1196.66"/><rect x="1198.41"/><rect x="1200.15"/><rect x="1201.9"/><rect x="1203.65"/><rect x="1205.39"/><rect x="1207.14"/><rect x="1208.89"/><rect x="1210.63"/><rect x="1212.38"/><rect x="1214.13"/><rect x="1215.88"/><rect x="1217.62"/><rect x="1219.37"/><rect x="1221.12"/><rect x="1222.86"/><rect x="1224.61"/><rect x="1226.36"/><rect x="1228.1"/><rect x="1229.85"/><rect x="1231.6"/><rect x="1233.34"/><rect x="1235.09"/><rect x="1236.84"/><rect x="1238.58"/><rect x="1240.33"/><rect x="1242.08"/><rect x="1243.82"/><rect x="1245.57"/><rect x="1247.32"/><rect x="1249.06"/><rect x="1250.81"/><rect x="1252.56"/><rect x="1254.3"/><rect x="1256.05"/><rect x="1257.8"/><rect x="1259.55"/><rect x="1261.29"/><rect x="1263.04"/><rect x="1264.79"/><rect x="1266.53"/><rect x="1268.28"/><rect x="1270.03"/><rect x="1271.77"/><rect x="1273.52"/><rect x="1275.27"/><rect x="1277.01"/><rect x="1278.76"/><rect x="1280.51"/><rect x="1282.25"/><rect x="1284"/><rect x="1285.75"/><rect x="1287.49"/><rect x="1289.24"/><rect x="1290.99"/><rect x="1292.73"/><rect x="1294.48"/><rect x="1296.23"/><rect x="1297.97"/><rect x="1299.72"/><rect x="1301.47"/><rect x="1303.22"/><rect x="1304.96"/><rect x="1306.71"/><rect x="1308.46"/><rect x="1310.2"/><rect x="1311.95"/><rect x="1313.7"/><rect x="1315.44"/><rect x="1317.19"/><rect x="1318.94"/><rect x="1320.68"/><rect x="1322.43"/><rect x="1324.18"/><rect x="1325.92"/><rect x="1327.67"/><rect x="1329.42"/><rect x="1331.16"/><rect x="1332.91"/><rect x="1334.66"/><rect x="1336.4"/><rect x="1338.15"/><rect x="1339.9"/><rect x="1341.64"/><rect x="1343.39"/><rect x="1345.14"/><rect x="1346.89"/><rect x="1348.63"/><rect x="1350.38"/><rect x="1352.13"/><rect x="1353.87"/><rect x="1355.62"/><rect x="1357.37"/><rect x="1359.11"/><rect x="1360.86"/><rect x="1362.61"/><rect x="1364.35"/><rect x="1366.1"/><rect x="1367.85"/><rect x="1369.59"/><rect x="1371.34"/><rect x="1373.09"/><rect x="1374.83"/><rect x="1376.58"/><rect x="1378.33"/><rect x="1380.07"/><rect x="1381.82"/><rect x="1383.57"/><rect x="1385.31"/><rect x="1387.06"/><rect x="1388.81"/><rect x="1390.56"/><rect x="1392.3"/><rect x="1394.05"/><rect x="1395.8"/><rect x="1397.54"/><rect x="1399.29"/><rect x="1401.04"/><rect x="1402.78"/><rect x="1404.53"/><rect x="1406.28"/><rect x="1408.02"/><rect x="1409.77"/><rect x="1411.52"/><rect x="1413.26"/><rect x="1415.01"/><rect x="1416.76"/><rect x="1418.5"/><rect x="1420.25"/><rect x="1422"/><rect x="1423.74"/><rect x="1425.49"/><rect x="1427.24"/><rect x="1428.98"/><rect x="1430.73"/><rect x="1432.48"/><rect x="1434.23"/><rect x="1435.97"/><rect x="1437.72"/><rect x="1439.47"/><rect x="1441.21"/><rect x="1442.96"/><rect x="1444.71"/><rect x="1446.45"/><rect x="1448.2"/><rect x="1449.95"/><rect x="1451.69"/><rect x="1453.44"/><rect x="1455.19"/><rect x="1456.93"/><rect x="1458.68"/><rect x="1460.43"/><rect x="1462.17"/><rect x="1463.92"/><rect x="1465.67"/><rect x="1467.41"/><rect x="1469.16"/><rect x="1470.91"/><rect x="1472.65"/><rect x="1474.4"/><rect x="1476.15"/><rect x="1477.9"/><rect x="1479.64"/><rect x="1481.39"/><rect x="1483.14"/><rect x="1484.88"/><rect x="1486.63"/><rect x="1488.38"/><rect x="1490.12"/><rect x="1491.87"/><rect x="1493.62"/><rect x="1495.36"/><rect x="1497.11"/><rect x="1498.86"/><rect x="1500.6"/><rect x="1502.35"/><rect x="1504.1"/><rect x="1505.84"/><rect x="1507.59"/><rect x="1509.34"/><rect x="1511.08"/><rect x="1512.83"/><rect x="1514.58"/><rect x="1516.32"/><rect x="1518.07"/><rect x="1519.82"/><rect x="1521.57"/><rect x="1523.31"/><rect x="1525.06"/><rect x="1526.81"/><rect x="1528.55"/><rect x="1530.3"/><rect x="1532.05"/><rect x="1533.79"/><rect x="1535.54"/><rect x="1537.29"/><rect x="1539.03"/><rect x="1540.78"/><rect x="1542.53"/><rect x="1544.27"/><rect x="1546.02"/><rect x="1547.77"/><rect x="1549.51"/><rect x="1551.26"/><rect x="1553.01"/><rect x="1554.75"/><rect x="1556.5"/><rect x="1558.25"/><rect x="1559.99"/><rect x="1561.74"/><rect x="1563.49"/><rect x="1565.24"/><rect x="1566.98"/><rect x="1568.73"/><rect x="1570.48"/><rect x="1572.22"/><rect x="1573.97"/><rect x="1575.72"/><rect x="1577.46"/><rect x="1579.21"/><rect x="1580.96"/><rect x="1582.7"/><rect x="1584.45"/><rect x="1586.2"/><rect x="1587.94"/><rect x="1589.69"/><rect x="1591.44"/><rect x="1593.18"/><rect x="1594.93"/><rect x="1596.68"/><rect x="1598.42"/><rect x="1600.17"/><rect x="1601.92"/><rect x="1603.66"/><rect x="1605.41"/><rect x="1607.16"/><rect x="1608.91"/><rect x="1610.65"/><rect x="1612.4"/><rect x="1614.15"/><rect x="1615.89"/><rect x="1617.64"/><rect x="1619.39"/><rect x="1621.13"/><rect x="1622.88"/><rect x="1624.63"/><rect x="1626.37"/><rect x="1628.12"/><rect x="1629.87"/><rect x="1631.61"/><rect x="1633.36"/><rect x="1635.11"/><rect x="1636.85"/><rect x="1638.6"/><rect x="1640.35"/><rect x="1642.09"/><rect x="1643.84"/><rect x="1645.59"/><rect x="1647.33"/><rect x="1649.08"/><rect x="1650.83"/><rect x="1652.58"/><rect x="1654.32"/><rect x="1656.07"/><rect x="1657.82"/><rect x="1659.56"/><rect x="1661.31"/><rect x="1663.06"/><rect x="1664.8"/><rect x="1666.55"/><rect x="1668.3"/><rect x="1670.04"/><rect x="1671.79"/><rect x="1673.54"/><rect x="1675.28"/><rect x="1677.03"/><rect x="1678.78"/><rect x="1680.52"/><rect x="1682.27"/><rect x="1684.02"/><rect x="1685.76"/><rect x="1687.51"/><rect x="1689.26"/><rect x="1691"/><rect x="1692.75"/><rect x="1694.5"/><rect x="1696.25"/><rect x="1697.99"/><rect x="1699.74"/><rect x="1701.49"/><rect x="1703.23"/><rect x="1704.98"/><rect x="1706.73"/><rect x="1708.47"/><rect x="1710.22"/><rect x="1711.97"/><rect x="1713.71"/><rect x="1715.46"/><rect x="1717.21"/><rect x="1718.95"/><rect x="1720.7"/><rect x="1722.45"/><rect x="1724.19"/><rect x="1725.94"/><rect x="1727.69"/><rect x="1729.43"/><rect x="1731.18"/><rect x="1732.93"/><rect x="1734.67"/><rect x="1736.42"/><rect x="1738.17"/><rect x="1739.92"/><rect x="1741.66"/><rect x="1743.41"/><rect x="1745.16"/><rect x="1746.9"/><rect x="1748.65"/><rect x="1750.4"/><rect x="1752.14"/><rect x="1753.89"/><rect x="1755.64"/><rect x="1757.38"/><rect x="1759.13"/><rect x="1760.88"/><rect x="1762.62"/><rect x="1764.37"/><rect x="1766.12"/><rect x="1767.86"/><rect x="1769.61"/><rect x="1771.36"/><rect x="1773.1"/><rect x="1774.85"/><rect x="1776.6"/><rect x="1778.34"/><rect x="1780.09"/><rect x="1781.84"/><rect x="1783.59"/><rect x="1785.33"/><rect x="1787.08"/><rect x="1788.83"/><rect x="1790.57"/><rect x="1792.32"/><rect x="1794.07"/><rect x="1795.81"/><rect x="1797.56"/><rect x="1799.31"/><rect x="1801.05"/><rect x="1802.8"/><rect x="1804.55"/><rect x="1806.29"/><rect x="1808.04"/><rect x="1809.79"/><rect x="1811.53"/><rect x="1813.28"/><rect x="1815.03"/><rect x="1816.77"/><rect x="1818.52"/><rect x="1820.27"/><rect x="1822.01"/><rect x="1823.76"/><rect x="1825.51"/><rect x="1827.26"/><rect x="1829"/><rect x="1830.75"/><rect x="1832.5"/><rect x="1834.24"/><rect x="1835.99"/><rect x="1837.74"/><rect x="1839.48"/><rect x="1841.23"/><rect x="1842.98"/><rect x="1844.72"/><rect x="1846.47"/><rect x="1848.22"/><rect x="1849.96"/><rect x="1851.71"/><rect x="1853.46"/><rect x="1855.2"/><rect x="1856.95"/><rect x="1858.7"/><rect x="1860.44"/><rect x="1862.19"/><rect x="1863.94"/><rect x="1865.68"/><rect x="1867.43"/><rect x="1869.18"/><rect x="1870.93"/><rect x="1872.67"/><rect x="1874.42"/><rect x="1876.17"/><rect x="1877.91"/><rect x="1879.66"/><rect x="1881.41"/><rect x="1883.15"/><rect x="1884.9"/><rect x="1886.65"/><rect x="1888.39"/><rect x="1890.14"/></g>
<g class="c" transform="translate(0,597.33)"><rect x="361.69"/><rect x="363.44"/><rect x="365.18"/><rect x="366.93"/><rect x="368.68"/><rect x="370.42"/><rect x="372.17"/><rect x="373.92"/><rect x="375.66"/><rect x="377.41"/><rect x="379.16"/><rect x="380.9"/><rect x="382.65"/><rect x="384.4"/><rect x="386.15"/><rect x="387.89"/><rect x="389.64"/><rect x="391.39"/><rect x="393.13"/><rect x="394.88"/><rect x="396.63"/><rect x="398.37"/><rect x="400.12"/><rect x="401.87"/><rect x="403.61"/><rect x="405.36"/><rect x="407.11"/><rect x="408.85"/><rect x="410.6"/><rect x="412.35"/><rect x="414.09"/><rect x="415.84"/><rect x="417.59"/><rect class="d" x="419.33"/><rect class="d" x="421.08"/><rect x="422.83"/><rect class="d" x="424.57"/><rect class="d" x="426.32"/><rect class="d" x="428.07"/><rect x="429.82"/><rect class="d" x="431.56"/><rect x="433.31"/><rect x="435.06"/><rect x="436.8"/><rect x="438.55"/><rect x="440.3"/><rect x="442.04"/><rect x="443.79"/><rect class="d" x="445.54"/><rect x="447.28"/><rect x="449.03"/><rect x="450.78"/><rect class="d" x="452.52"/><rect x="454.27"/><rect x="456.02"/><rect x="457.76"/><rect x="459.51"/><rect x="461.26"/><rect x="463"/><rect x="464.75"/><rect x="466.5"/><rect x="468.24"/><rect x="469.99"/><rect x="471.74"/><rect class="d" x="473.49"/><rect x="475.23"/><rect class="d" x="476.98"/><rect class="d" x="478.73"/><rect x="480.47"/><rect x="482.22"/><rect class="d" x="483.97"/><rect x="485.71"/><rect class="d" x="487.46"/><rect class="d" x="489.21"/><rect x="490.95"/><rect x="492.7"/><rect x="494.45"/><rect x="496.19"/><rect x="497.94"/><rect x="499.69"/><rect x="501.43"/><rect x="503.18"/><rect class="d" x="504.93"/><rect x="506.67"/><rect x="508.42"/><rect x="510.17"/><rect x="511.91"/><rect x="513.66"/><rect x="515.41"/><rect x="517.16"/><rect x="518.9"/><rect x="520.65"/><rect x="522.4"/><rect x="524.14"/><rect x="525.89"/><rect x="527.64"/><rect x="529.38"/><rect x="531.13"/><rect x="532.88"/><rect x="534.62"/><rect x="536.37"/><rect x="538.12"/><rect x="539.86"/><rect x="541.61"/><rect x="543.36"/><rect x="545.1"/><rect x="546.85"/><rect x="548.6"/><rect class="d" x="550.34"/><rect x="552.09"/><rect x="553.84"/><rect x="555.58"/><rect x="557.33"/><rect x="559.08"/><rect x="560.83"/><rect x="562.57"/><rect x="564.32"/><rect class="d" x="566.07"/><rect x="567.81"/><rect x="569.56"/><rect x="571.31"/><rect x="573.05"/><rect x="574.8"/><rect class="d" x="576.55"/><rect class="d" x="578.29"/><rect class="d" x="580.04"/><rect x="581.79"/><rect class="d" x="583.53"/><rect class="d" x="585.28"/><rect class="d" x="587.03"/><rect class="d" x="588.77"/><rect x="590.52"/><rect class="d" x="592.27"/><rect x="594.01"/><rect x="595.76"/><rect x="597.51"/><rect x="599.25"/><rect x="601"/><rect x="602.75"/><rect x="604.5"/><rect x="606.24"/><rect x="607.99"/><rect x="609.74"/><rect x="611.48"/><rect x="613.23"/><rect x="614.98"/><rect x="616.72"/><rect x="618.47"/><rect x="620.22"/><rect x="621.96"/><rect x="623.71"/><rect x="625.46"/><rect x="627.2"/><rect class="d" x="628.95"/><rect x="630.7"/><rect x="632.44"/><rect x="634.19"/><rect x="635.94"/><rect x="637.68"/><rect x="639.43"/><rect x="641.18"/><rect x="642.92"/><rect x="644.67"/><rect x="646.42"/><rect class="d" x="648.17"/><rect x="649.91"/><rect x="651.66"/><rect x="653.41"/><rect x="655.15"/><rect x="656.9"/><rect x="658.65"/><rect x="660.39"/><rect x="662.14"/><rect x="663.89"/><rect x="665.63"/><rect x="667.38"/><rect x="669.13"/><rect x="670.87"/><rect x="672.62"/><rect x="674.37"/><rect x="676.11"/><rect x="677.86"/><rect x="679.61"/><rect x="681.35"/><rect x="683.1"/><rect class="d" x="684.85"/><rect x="686.59"/><rect x="688.34"/><rect x="690.09"/><rect x="691.84"/><rect x="693.58"/><rect x="695.33"/><rect x="697.08"/><rect x="698.82"/><rect x="700.57"/><rect x="702.32"/><rect x="704.06"/><rect x="705.81"/><rect x="707.56"/><rect x="709.3"/><rect x="711.05"/><rect x="712.8"/><rect x="714.54"/><rect x="716.29"/><rect x="718.04"/><rect class="d" x="719.78"/><rect x="721.53"/><rect x="723.28"/><rect x="725.02"/><rect x="726.77"/><rect x="728.52"/><rect x="730.26"/><rect x="732.01"/><rect x="733.76"/><rect x="735.51"/><rect x="737.25"/><rect x="739"/><rect x="740.75"/><rect x="742.49"/><rect x="744.24"/><rect x="745.99"/><rect x="747.73"/><rect x="749.48"/><rect x="751.23"/><rect x="752.97"/><rect x="754.72"/><rect x="756.47"/><rect x="758.21"/><rect x="759.96"/><rect x="761.71"/><rect x="763.45"/><rect x="765.2"/><rect x="766.95"/><rect x="768.69"/><rect x="770.44"/><rect x="772.19"/><rect x="773.93"/><rect x="775.68"/><rect x="777.43"/><rect x="779.18"/><rect x="780.92"/><rect x="782.67"/><rect x="784.42"/><rect x="786.16"/><rect x="787.91"/><rect x="789.66"/><rect x="791.4"/><rect x="793.15"/><rect x="794.9"/><rect x="796.64"/><rect x="798.39"/><rect x="800.14"/><rect x="801.88"/><rect x="803.63"/><rect x="805.38"/><rect x="807.12"/><rect x="808.87"/><rect x="810.62"/><rect x="812.36"/><rect x="814.11"/><rect x="815.86"/><rect x="817.6"/><rect x="819.35"/><rect x="821.1"/><rect x="822.85"/><rect x="824.59"/><rect x="826.34"/><rect x="828.09"/><rect x="829.83"/><rect x="831.58"/><rect x="833.33"/><rect x="835.07"/><rect x="836.82"/><rect x="838.57"/><rect x="840.31"/><rect x="842.06"/><rect x="843.81"/><rect x="845.55"/><rect x="847.3"/><rect x="849.05"/><rect x="850.79"/><rect x="852.54"/><rect x="854.29"/><rect x="856.03"/><rect x="857.78"/><rect x="859.53"/><rect x="861.27"/><rect x="863.02"/><rect x="864.77"/><rect x="866.52"/><rect x="868.26"/><rect x="870.01"/><rect x="871.76"/><rect x="873.5"/><rect x="875.25"/><rect x="877"/><rect x="878.74"/><rect x="880.49"/><rect x="882.24"/><rect x="883.98"/><rect x="885.73"/><rect x="887.48"/><rect x="889.22"/><rect x="890.97"/><rect x="892.72"/><rect x="894.46"/><rect x="896.21"/><rect x="897.96"/><rect x="899.7"/><rect x="901.45"/><rect x="903.2"/><rect x="904.94"/><rect x="906.69"/><rect x="908.44"/><rect x="910.19"/><rect x="911.93"/><rect x="913.68"/><rect x="915.43"/><rect x="917.17"/><rect x="918.92"/><rect x="920.67"/><rect x="922.41"/><rect x="924.16"/><rect class="d" x="925.91"/><rect x="927.65"/><rect x="929.4"/><rect x="931.15"/><rect x="932.89"/><rect x="934.64"/><rect x="936.39"/><rect x="938.13"/><rect x="939.88"/><rect x="941.63"/><rect x="943.37"/><rect x="945.12"/><rect x="946.87"/><rect x="948.61"/><rect x="950.36"/><rect x="952.11"/><rect x="953.86"/><rect x="955.6"/><rect x="957.35"/><rect x="959.1"/><rect x="960.84"/><rect x="962.59"/><rect x="964.34"/><rect x="966.08"/><rect x="967.83"/><rect x="969.58"/><rect x="971.32"/><rect x="973.07"/><rect x="974.82"/><rect x="976.56"/><rect x="978.31"/><rect x="980.06"/><rect x="981.8"/><rect x="983.55"/><rect x="985.3"/><rect x="987.04"/><rect x="988.79"/><rect x="990.54"/><rect x="992.28"/><rect x="994.03"/><rect x="995.78"/><rect x="997.53"/><rect x="999.27"/><rect x="1001.02"/><rect x="1002.77"/><rect x="1004.51"/><rect x="1006.26"/><rect x="1008.01"/><rect x="1009.75"/><rect x="1011.5"/><rect x="1013.25"/><rect x="1014.99"/><rect x="1016.74"/><rect x="1018.49"/><rect x="1020.23"/><rect x="1021.98"/><rect x="1023.73"/><rect x="1025.47"/><rect x="1027.22"/><rect x="1028.97"/><rect x="1030.71"/><rect x="1032.46"/><rect x="1034.21"/><rect x="1035.95"/><rect x="1037.7"/><rect x="1039.45"/><rect x="1041.2"/><rect x="1042.94"/><rect x="1044.69"/><rect x="1046.44"/><rect x="1048.18"/><rect x="1049.93"/><rect x="1051.68"/><rect x="1053.42"/><rect x="1055.17"/><rect x="1056.92"/><rect x="1058.66"/><rect x="1060.41"/><rect x="1062.16"/><rect x="1063.9"/><rect x="1065.65"/><rect x="1067.4"/><rect x="1069.14"/><rect x="1070.89"/><rect x="1072.64"/><rect x="1074.38"/><rect x="1076.13"/><rect x="1077.88"/><rect x="1079.62"/><rect x="1081.37"/><rect x="1083.12"/><rect x="1084.87"/><rect x="1086.61"/><rect x="1088.36"/><rect x="1090.11"/><rect x="1091.85"/><rect x="1093.6"/><rect x="1095.35"/><rect x="1097.09"/><rect x="1098.84"/><rect x="1100.59"/><rect x="1102.33"/><rect x="1104.08"/><rect x="1105.83"/><rect x="1107.57"/><rect x="1109.32"/><rect x="1111.07"/><rect x="1112.81"/><rect x="1114.56"/><rect x="1116.31"/><rect x="1118.05"/><rect x="1119.8"/><rect x="1121.55"/><rect x="1123.29"/><rect x="1125.04"/><rect x="1126.79"/><rect x="1128.54"/><rect x="1130.28"/><rect x="1132.03"/><rect x="1133.78"/><rect x="1135.52"/><rect x="1137.27"/><rect x="1139.02"/><rect x="1140.76"/><rect x="1142.51"/><rect x="1144.26"/><rect x="1146"/><rect x="1147.75"/><rect x="1149.5"/><rect x="1151.24"/><rect x="1152.99"/><rect x="1154.74"/><rect x="1156.48"/><rect x="1158.23"/><rect x="1159.98"/><rect x="1161.72"/><rect x="1163.47"/><rect x="1165.22"/><rect x="1166.96"/><rect x="1168.71"/><rect x="1170.46"/><rect x="1172.21"/><rect x="1173.95"/><rect x="1175.7"/><rect x="1177.45"/><rect x="1179.19"/><rect x="1180.94"/><rect x="1182.69"/><rect x="1184.43"/><rect x="1186.18"/><rect x="1187.93"/><rect x="1189.67"/><rect x="1191.42"/><rect x="1193.17"/><rect x="1194.91"/><rect x="1196.66"/><rect x="1198.41"/><rect x="1200.15"/><rect x="1201.9"/><rect x="1203.65"/><rect x="1205.39"/><rect x="1207.14"/><rect x="1208.89"/><rect x="1210.63"/><rect x="1212.38"/><rect x="1214.13"/><rect x="1215.88"/><rect x="1217.62"/><rect x="1219.37"/><rect x="1221.12"/><rect x="1222.86"/><rect x="1224.61"/><rect x="1226.36"/><rect x="1228.1"/><rect x="1229.85"/><rect x="1231.6"/><rect x="1233.34"/><rect x="1235.09"/><rect x="1236.84"/><rect x="1238.58"/><rect x="1240.33"/><rect x="1242.08"/><rect x="1243.82"/><rect x="1245.57"/><rect x="1247.32"/><rect x="1249.06"/><rect x="1250.81"/><rect x="1252.56"/><rect x="1254.3"/><rect x="1256.05"/><rect x="1257.8"/><rect x="1259.55"/><rect x="1261.29"/><rect x="1263.04"/><rect x="1264.79"/><rect x="1266.53"/><rect x="1268.28"/><rect x="1270.03"/><rect x="1271.77"/><rect x="1273.52"/><rect x="1275.27"/><rect x="1277.01"/><rect x="1278.76"/><rect x="1280.51"/><rect x="1282.25"/><rect x="1284"/><rect x="1285.75"/><rect x="1287.49"/><rect x="1289.24"/><rect x="1290.99"/><rect x="1292.73"/><rect x="1294.48"/><rect x="1296.23"/><rect x="1297.97"/><rect x="1299.72"/><rect x="1301.47"/><rect x="1303.22"/><rect x="1304.96"/><rect x="1306.71"/><rect x="1308.46"/><rect x="1310.2"/><rect x="1311.95"/><rect x="1313.7"/><rect x="1315.44"/><rect x="1317.19"/><rect x="1318.94"/><rect x="1320.68"/><rect x="1322.43"/><rect x="1324.18"/><rect x="1325.92"/><rect x="1327.67"/><rect x="1329.42"/><rect x="1331.16"/><rect x="1332.91"/><rect x="1334.66"/><rect x="1336.4"/><rect x="1338.15"/><rect x="1339.9"/><rect x="1341.64"/><rect x="1343.39"/><rect x="1345.14"/><rect x="1346.89"/><rect x="1348.63"/><rect x="1350.38"/><rect x="1352.13"/><rect x="1353.87"/><rect x="1355.62"/><rect x="1357.37"/><rect x="1359.11"/><rect x="1360.86"/><rect x="1362.61"/><rect x="1364.35"/><rect x="1366.1"/><rect x="1367.85"/><rect x="1369.59"/><rect x="1371.34"/><rect x="1373.09"/><rect x="1374.83"/><rect x="1376.58"/><rect x="1378.33"/><rect x="1380.07"/><rect x="1381.82"/><rect x="1383.57"/><rect x="1385.31"/><rect x="1387.06"/><rect x="1388.81"/><rect x="1390.56"/><rect x="1392.3"/><rect x="1394.05"/><rect x="1395.8"/><rect x="1397.54"/><rect x="1399.29"/><rect x="1401.04"/><rect x="1402.78"/><rect x="1404.53"/><rect x="1406.28"/><rect x="1408.02"/><rect x="1409.77"/><rect x="1411.52"/><rect x="1413.26"/><rect x="1415.01"/><rect x="1416.76"/><rect x="1418.5"/><rect x="1420.25"/><rect x="1422"/><rect x="1423.74"/><rect x="1425.49"/><rect x="1427.24"/><rect x="1428.98"/><rect x="1430.73"/><rect x="1432.48"/><rect x="1434.23"/><rect x="1435.97"/><rect x="1437.72"/><rect x="1439.47"/><rect x="1441.21"/><rect x="1442.96"/><rect x="1444.71"/><rect x="1446.45"/><rect x="1448.2"/><rect x="1449.95"/><rect x="1451.69"/><rect x="1453.44"/><rect x="1455.19"/><rect x="1456.93"/><rect x="1458.68"/><rect x="1460.43"/><rect x="1465.67"/><rect x="1467.41"/><rect x="1469.16"/><rect x="1470.91"/><rect x="1472.65"/><rect x="1477.9"/><rect x="1479.64"/><rect x="1481.39"/><rect x="1483.14"/><rect x="1484.88"/><rect x="1490.12"/><rect x="1491.87"/><rect x="1493.62"/><rect x="1495.36"/><rect x="1497.11"/><rect x="1502.35"/><rect x="1504.1"/><rect x="1505.84"/><rect x="1507.59"/><rect x="1509.34"/><rect x="1514.58"/><rect x="1516.32"/><rect x="1518.07"/><rect x="1519.82"/><rect x="1521.57"/><rect x="1526.81"/><rect x="1528.55"/><rect x="1530.3"/><rect x="1532.05"/><rect x="1533.79"/><rect x="1539.03"/><rect x="1540.78"/><rect x="1542.53"/><rect x="1544.27"/><rect x="1546.02"/><rect x="1551.26"/><rect x="1553.01"/><rect x="1554.75"/><rect x="1556.5"/><rect x="1558.25"/><rect x="1563.49"/><rect x="1565.24"/><rect x="1566.98"/><rect x="1568.73"/><rect x="1570.48"/><rect x="1575.72"/><rect x="1577.46"/><rect x="1579.21"/><rect x="1580.96"/><rect x="1582.7"/><rect x="1587.94"/><rect x="1589.69"/><rect x="1591.44"/><rect x="1593.18"/><rect x="1594.93"/><rect x="1600.17"/><rect x="1601.92"/><rect x="1603.66"/><rect x="1605.41"/><rect x="1607.16"/><rect x="1612.4"/><rect x="1614.15"/><rect x="1615.89"/><rect x="1617.64"/><rect x="1619.39"/><rect x="1624.63"/><rect x="1626.37"/><rect x="1628.12"/><rect x="1629.87"/><rect x="1631.61"/><rect x="1636.85"/><rect x="1638.6"/><rect x="1640.35"/><rect x="1642.09"/><rect x="1643.84"/><rect x="1649.08"/><rect x="1650.83"/><rect x="1652.58"/><rect x="1654.32"/><rect x="1656.07"/><rect x="1661.31"/><rect x="1663.06"/><rect x="1664.8"/><rect x="1666.55"/><rect x="1668.3"/><rect x="1673.54"/><rect x="1675.28"/><rect x="1677.03"/><rect x="1678.78"/><rect x="1680.52"/><rect x="1685.76"/><rect x="1687.51"/><rect x="1689.26"/><rect x="1691"/><rect x="1692.75"/><rect x="1697.99"/><rect x="1699.74"/><rect x="1701.49"/><rect x="1703.23"/><rect x="1704.98"/><rect x="1710.22"/><rect x="1711.97"/><rect x="1713.71"/><rect x="1715.46"/><rect x="1717.21"/><rect x="1722.45"/><rect x="1724.19"/><rect x="1725.94"/><rect x="1727.69"/><rect x="1729.43"/><rect x="1734.67"/><rect x="1736.42"/><rect x="1738.17"/><rect x="1739.92"/><rect x="1741.66"/><rect x="1746.9"/><rect x="1748.65"/><rect x="1750.4"/><rect x="1752.14"/><rect x="1753.89"/><rect x="1759.13"/><rect x="1760.88"/><rect x="1762.62"/><rect x="1764.37"/><rect x="1766.12"/><rect x="1771.36"/><rect x="1773.1"/><rect x="1774.85"/><rect x="1776.6"/><rect x="1778.34"/><rect x="1783.59"/><rect x="1785.33"/><rect x="1787.08"/><rect x="1788.83"/><rect x="1790.57"/><rect x="1795.81"/><rect x="1797.56"/><rect x="1799.31"/><rect x="1801.05"/><rect x="1802.8"/><rect x="1808.04"/><rect x="1809.79"/><rect x="1811.53"/><rect x="1813.28"/><rect x="1815.03"/><rect x="1820.27"/><rect x="1822.01"/><rect x="1823.76"/><rect x="1825.51"/><rect x="1827.26"/><rect x="1832.5"/><rect x="1834.24"/><rect x="1835.99"/><rect x="1837.74"/><rect x="1839.48"/><rect x="1844.72"/><rect x="1846.47"/><rect x="1848.22"/><rect x="1849.96"/><rect x="1851.71"/><rect x="1856.95"/><rect x="1858.7"/><rect x="1860.44"/><rect x="1862.19"/><rect x="1863.94"/><rect x="1869.18"/><rect x="1870.93"/><rect x="1872.67"/><rect x="1874.42"/><rect x="1876.17"/><rect x="1881.41"/><rect x="1883.15"/><rect x="1884.9"/><rect x="1886.65"/><rect x="1888.39"/></g>
<g class="c" transform="translate(0,730.66)"><rect x="361.69"/><rect x="363.44"/><rect x="365.18"/><rect x="366.93"/><rect x="368.68"/><rect x="370.42"/><rect x="372.17"/><rect x="373.92"/><rect x="375.66"/><rect x="377.41"/><rect x="379.16"/><rect x="380.9"/><rect x="382.65"/><rect x="384.4"/><rect x="386.15"/><rect class="d" x="387.89"/><rect x="389.64"/><rect x="391.39"/><rect x="393.13"/><rect x="394.88"/><rect x="396.63"/><rect class="d" x="398.37"/><rect class="d" x="400.12"/><rect class="d" x="401.87"/><rect class="d" x="403.61"/><rect x="405.36"/><rect class="d" x="407.11"/><rect class="d" x="408.85"/><rect class="d" x="410.6"/><rect class="d" x="412.35"/><rect x="414.09"/><rect class="d" x="415.84"/><rect class="d" x="417.59"/><rect class="d" x="419.33"/><rect class="d" x="421.08"/><rect class="d" x="422.83"/><rect class="d" x="424.57"/><rect class="d" x="426.32"/><rect class="d" x="428.07"/><rect class="d" x="429.82"/><rect class="d" x="431.56"/><rect class="d" x="433.31"/><rect class="d" x="435.06"/><rect class="d" x="436.8"/><rect class="d" x="438.55"/><rect class="d" x="440.3"/><rect class="d" x="442.04"/><rect class="d" x="443.79"/><rect class="d" x="445.54"/><rect class="d" x="447.28"/><rect class="d" x="449.03"/><rect class="d" x="450.78"/><rect class="d" x="452.52"/><rect class="d" x="454.27"/><rect class="d" x="456.02"/><rect x="457.76"/><rect class="d" x="459.51"/><rect class="d" x="461.26"/><rect class="d" x="463"/><rect class="d" x="464.75"/><rect class="d" x="466.5"/><rect class="d" x="468.24"/><rect class="d" x="469.99"/><rect x="471.74"/><rect x="473.49"/><rect class="d" x="475.23"/><rect x="476.98"/><rect class="d" x="478.73"/><rect x="480.47"/><rect x="482.22"/><rect class="d" x="483.97"/><rect class="d" x="485.71"/><rect x="487.46"/><rect class="d" x="489.21"/><rect x="490.95"/><rect x="492.7"/><rect class="d" x="494.45"/><rect x="496.19"/><rect x="497.94"/><rect class="d" x="499.69"/><rect class="d" x="501.43"/><rect x="503.18"/><rect x="504.93"/><rect x="506.67"/><rect class="d" x="508.42"/><rect class="d" x="510.17"/><rect class="d" x="511.91"/><rect class="d" x="513.66"/><rect class="d" x="515.41"/><rect class="d" x="517.16"/><rect class="d" x="518.9"/><rect class="d" x="520.65"/><rect x="522.4"/><rect x="524.14"/><rect class="d" x="525.89"/><rect x="527.64"/><rect x="529.38"/><rect x="531.13"/><rect x="532.88"/><rect x="534.62"/><rect x="536.37"/><rect x="538.12"/><rect x="539.86"/><rect x="541.61"/><rect x="543.36"/><rect class="d" x="545.1"/><rect x="546.85"/><rect x="548.6"/><rect x="550.34"/><rect x="552.09"/><rect x="553.84"/><rect x="555.58"/><rect x="557.33"/><rect x="559.08"/><rect x="560.83"/><rect x="562.57"/><rect x="564.32"/><rect class="d" x="566.07"/><rect x="567.81"/><rect x="569.56"/><rect x="571.31"/><rect x="573.05"/><rect x="574.8"/><rect x="576.55"/><rect class="d" x="578.29"/><rect class="d" x="580.04"/><rect class="d" x="581.79"/><rect x="583.53"/><rect class="d" x="585.28"/><rect class="d" x="587.03"/><rect class="d" x="588.77"/><rect x="590.52"/><rect class="d" x="592.27"/><rect class="d" x="594.01"/><rect x="595.76"/><rect x="597.51"/><rect x="599.25"/><rect x="601"/><rect x="602.75"/><rect x="604.5"/><rect x="606.24"/><rect x="607.99"/><rect x="609.74"/><rect x="611.48"/><rect x="613.23"/><rect x="614.98"/><rect x="616.72"/><rect x="618.47"/><rect x="620.22"/><rect x="621.96"/><rect x="623.71"/><rect class="d" x="625.46"/><rect x="627.2"/><rect x="628.95"/><rect x="630.7"/><rect x="632.44"/><rect x="634.19"/><rect x="635.94"/><rect x="637.68"/><rect x="639.43"/><rect x="641.18"/><rect class="d" x="642.92"/><rect x="644.67"/><rect x="646.42"/><rect x="648.17"/><rect x="649.91"/><rect x="651.66"/><rect x="653.41"/><rect x="655.15"/><rect x="656.9"/><rect x="658.65"/><rect x="660.39"/><rect x="662.14"/><rect x="663.89"/><rect x="665.63"/><rect x="667.38"/><rect x="669.13"/><rect x="670.87"/><rect x="672.62"/><rect x="674.37"/><rect x="676.11"/><rect x="677.86"/><rect x="679.61"/><rect x="681.35"/><rect x="683.1"/><rect x="684.85"/><rect x="686.59"/><rect x="688.34"/><rect x="690.09"/><rect x="691.84"/><rect x="693.58"/><rect x="695.33"/><rect class="d" x="697.08"/><rect x="698.82"/><rect x="700.57"/><rect x="702.32"/><rect x="704.06"/><rect x="705.81"/><rect x="707.56"/><rect x="709.3"/><rect x="711.05"/><rect x="712.8"/><rect x="714.54"/><rect x="716.29"/><rect x="718.04"/><rect x="719.78"/><rect x="721.53"/><rect x="723.28"/><rect x="725.02"/><rect x="726.77"/><rect x="728.52"/><rect x="730.26"/><rect x="732.01"/><rect x="733.76"/><rect x="735.51"/><rect x="737.25"/><rect x="739"/><rect x="740.75"/><rect x="742.49"/><rect x="744.24"/><rect x="745.99"/><rect x="747.73"/><rect x="749.48"/><rect x="751.23"/><rect x="752.97"/><rect x="754.72"/><rect x="756.47"/><rect x="758.21"/><rect x="759.96"/><rect x="761.71"/><rect x="763.45"/><rect x="765.2"/><rect x="766.95"/><rect x="768.69"/><rect x="770.44"/><rect x="772.19"/><rect x="773.93"/><rect x="775.68"/><rect x="777.43"/><rect x="779.18"/><rect x="780.92"/><rect x="782.67"/><rect x="784.42"/><rect x="786.16"/><rect class="d" x="787.91"/><rect class="d" x="789.66"/><rect x="791.4"/><rect x="793.15"/><rect x="794.9"/><rect x="796.64"/><rect x="798.39"/><rect class="d" x="800.14"/><rect x="801.88"/><rect x="803.63"/><rect x="805.38"/><rect x="807.12"/><rect x="808.87"/><rect x="810.62"/><rect x="812.36"/><rect x="814.11"/><rect x="815.86"/><rect x="817.6"/><rect x="819.35"/><rect x="821.1"/><rect x="822.85"/><rect x="824.59"/><rect x="826.34"/><rect x="828.09"/><rect x="829.83"/><rect x="831.58"/><rect x="833.33"/><rect x="835.07"/><rect x="836.82"/><rect x="838.57"/><rect x="840.31"/><rect x="842.06"/><rect x="843.81"/><rect x="845.55"/><rect x="847.3"/><rect x="849.05"/><rect x="850.79"/><rect x="852.54"/><rect x="854.29"/><rect x="856.03"/><rect x="857.78"/><rect x="859.53"/><rect x="861.27"/><rect x="863.02"/><rect x="864.77"/><rect x="866.52"/><rect x="868.26"/><rect x="870.01"/><rect x="871.76"/><rect x="873.5"/><rect x="875.25"/><rect x="877"/><rect x="878.74"/><rect x="880.49"/><rect x="882.24"/><rect x="883.98"/><rect x="885.73"/><rect x="887.48"/><rect x="889.22"/><rect x="890.97"/><rect x="892.72"/><rect x="894.46"/><rect x="896.21"/><rect x="897.96"/><rect x="899.7"/><rect x="901.45"/><rect x="903.2"/><rect x="904.94"/><rect x="906.69"/><rect x="908.44"/><rect x="910.19"/><rect x="911.93"/><rect x="913.68"/><rect x="915.43"/><rect x="917.17"/><rect x="918.92"/><rect x="920.67"/><rect x="922.41"/><rect x="924.16"/><rect x="925.91"/><rect x="927.65"/><rect x="929.4"/><rect x="931.15"/><rect x="932.89"/><rect x="934.64"/><rect x="936.39"/><rect x="938.13"/><rect x="939.88"/><rect x="941.63"/><rect x="943.37"/><rect x="945.12"/><rect x="946.87"/><rect x="948.61"/><rect x="950.36"/><rect x="952.11"/><rect x="953.86"/><rect x="955.6"/><rect x="957.35"/><rect x="959.1"/><rect x="960.84"/><rect x="962.59"/><rect x="964.34"/><rect x="966.08"/><rect x="967.83"/><rect x="969.58"/><rect x="971.32"/><rect x="973.07"/><rect x="974.82"/><rect x="976.56"/><rect x="978.31"/><rect x="980.06"/><rect x="981.8"/><rect x="983.55"/><rect x="985.3"/><rect x="987.04"/><rect x="988.79"/><rect x="990.54"/><rect x="992.28"/><rect x="994.03"/><rect x="995.78"/><rect x="997.53"/><rect x="999.27"/><rect x="1001.02"/><rect x="1002.77"/><rect x="1004.51"/><rect x="1006.26"/><rect x="1008.01"/><rect x="1009.75"/><rect x="1011.5"/><rect x="1013.25"/><rect x="1014.99"/><rect x="1016.74"/><rect x="1018.49"/><rect x="1020.23"/><rect x="1021.98"/><rect x="1023.73"/><rect x="1025.47"/><rect x="1027.22"/><rect x="1028.97"/><rect x="1030.71"/><rect x="1032.46"/><rect x="1034.21"/><rect x="1035.95"/><rect x="1037.7"/><rect x="1039.45"/><rect x="1041.2"/><rect x="1042.94"/><rect x="1044.69"/><rect x="1046.44"/><rect x="1048.18"/><rect x="1049.93"/><rect x="1051.68"/><rect x="1053.42"/><rect x="1055.17"/><rect x="1056.92"/><rect x="1058.66"/><rect x="1060.41"/><rect x="1062.16"/><rect x="1063.9"/><rect x="1065.65"/><rect x="1067.4"/><rect x="1069.14"/><rect x="1070.89"/><rect x="1072.64"/><rect x="1074.38"/><rect x="1076.13"/><rect x="1077.88"/><rect x="1079.62"/><rect x="1081.37"/><rect x="1083.12"/><rect x="1084.87"/><rect x="1086.61"/><rect x="1088.36"/><rect x="1090.11"/><rect x="1091.85"/><rect x="1093.6"/><rect x="1095.35"/><rect x="1097.09"/><rect x="1098.84"/><rect x="1100.59"/><rect x="1102.33"/><rect x="1104.08"/><rect x="1105.83"/><rect x="1107.57"/><rect x="1109.32"/><rect x="1111.07"/><rect x="1112.81"/><rect x="1114.56"/><rect x="1116.31"/><rect x="1118.05"/><rect x="1119.8"/><rect x="1121.55"/><rect x="1123.29"/><rect x="1125.04"/><rect x="1126.79"/><rect x="1128.54"/><rect x="1130.28"/><rect x="1132.03"/><rect x="1133.78"/><rect x="1135.52"/><rect x="1137.27"/><rect x="1139.02"/><rect x="1140.76"/><rect x="1142.51"/><rect x="1144.26"/><rect x="1146"/><rect x="1147.75"/><rect x="1149.5"/><rect class="d" x="1151.24"/><rect x="1152.99"/><rect x="1154.74"/><rect x="1156.48"/><rect x="1158.23"/><rect x="1159.98"/><rect x="1161.72"/><rect x="1163.47"/><rect x="1165.22"/><rect class="d" x="1166.96"/><rect x="1168.71"/><rect x="1170.46"/><rect x="1172.21"/><rect x="1173.95"/><rect x="1175.7"/><rect x="1177.45"/><rect class="d" x="1179.19"/><rect x="1180.94"/><rect x="1182.69"/><rect x="1184.43"/><rect x="1186.18"/><rect x="1187.93"/><rect x="1189.67"/><rect x="1191.42"/><rect x="1193.17"/><rect x="1194.91"/><rect x="1196.66"/><rect x="1198.41"/><rect x="1200.15"/><rect x="1201.9"/><rect x="1203.65"/><rect x="1205.39"/><rect class="d" x="1207.14"/><rect x="1208.89"/><rect x="1210.63"/><rect x="1212.38"/><rect x="1214.13"/><rect x="1215.88"/><rect x="1217.62"/><rect x="1219.37"/><rect x="1221.12"/><rect x="1222.86"/><rect class="d" x="1224.61"/><rect x="1226.36"/><rect x="1228.1"/><rect x="1229.85"/><rect x="1231.6"/><rect x="1233.34"/><rect x="1235.09"/><rect x="1236.84"/><rect x="1238.58"/><rect x="1240.33"/><rect x="1242.08"/><rect x="1243.82"/><rect x="1245.57"/><rect x="1247.32"/><rect x="1249.06"/><rect x="1250.81"/><rect x="1252.56"/><rect x="1254.3"/><rect x="1256.05"/><rect x="1257.8"/><rect x="1259.55"/><rect x="1261.29"/><rect x="1263.04"/><rect x="1264.79"/><rect x="1266.53"/><rect x="1268.28"/><rect x="1270.03"/><rect x="1271.77"/><rect x="1273.52"/><rect x="1275.27"/><rect x="1277.01"/><rect x="1278.76"/><rect x="1280.51"/><rect x="1282.25"/><rect x="1284"/><rect x="1285.75"/><rect x="1287.49"/><rect x="1289.24"/><rect x="1290.99"/><rect x="1292.73"/><rect x="1294.48"/><rect x="1296.23"/><rect x="1297.97"/><rect x="1299.72"/><rect x="1301.47"/><rect x="1303.22"/><rect x="1304.96"/><rect x="1306.71"/><rect x="1308.46"/><rect x="1310.2"/><rect x="1311.95"/><rect x="1313.7"/><rect x="1315.44"/><rect x="1317.19"/><rect x="1318.94"/><rect x="1320.68"/><rect x="1322.43"/><rect x="1324.18"/><rect x="1325.92"/><rect x="1327.67"/><rect x="1329.42"/><rect x="1331.16"/><rect x="1332.91"/><rect x="1334.66"/><rect x="1336.4"/><rect x="1338.15"/><rect x="1339.9"/><rect x="1341.64"/><rect x="1343.39"/><rect x="1345.14"/><rect x="1346.89"/><rect x="1348.63"/><rect x="1350.38"/><rect x="1352.13"/><rect x="1353.87"/><rect x="1355.62"/><rect x="1357.37"/><rect x="1359.11"/><rect x="1360.86"/><rect class="d" x="1362.61"/><rect x="1364.35"/><rect x="1366.1"/><rect x="1367.85"/><rect x="1369.59"/><rect x="1371.34"/><rect x="1373.09"/><rect x="1374.83"/><rect x="1376.58"/><rect x="1378.33"/><rect class="d" x="1380.07"/><rect x="1381.82"/><rect x="1383.57"/><rect x="1385.31"/><rect x="1387.06"/><rect x="1388.81"/><rect x="1390.56"/><rect x="1392.3"/><rect x="1394.05"/><rect x="1395.8"/><rect x="1397.54"/><rect x="1399.29"/><rect x="1401.04"/><rect x="1402.78"/><rect x="1404.53"/><rect x="1406.28"/><rect x="1408.02"/><rect x="1409.77"/><rect x="1411.52"/><rect x="1413.26"/><rect x="1415.01"/><rect x="1416.76"/><rect x="1418.5"/><rect x="1420.25"/><rect x="1422"/><rect x="1423.74"/><rect class="d" x="1425.49"/><rect x="1427.24"/><rect x="1428.98"/><rect x="1430.73"/><rect x="1432.48"/><rect x="1434.23"/><rect x="1435.97"/><rect x="1437.72"/><rect x="1439.47"/><rect x="1441.21"/><rect x="1442.96"/><rect x="1444.71"/><rect x="1446.45"/><rect x="1448.2"/><rect x="1449.95"/><rect x="1451.69"/><rect x="1453.44"/><rect x="1455.19"/><rect x="1456.93"/><rect x="1458.68"/><rect x="1460.43"/><rect x="1462.17"/><rect x="1463.92"/><rect class="d" x="1465.67"/><rect x="1467.41"/><rect x="1469.16"/><rect x="1470.91"/><rect x="1472.65"/><rect x="1474.4"/><rect x="1476.15"/><rect x="1477.9"/><rect x="1479.64"/><rect x="1481.39"/><rect x="1483.14"/><rect x="1484.88"/><rect x="1486.63"/><rect x="1488.38"/><rect x="1490.12"/><rect x="1491.87"/><rect x="1493.62"/><rect x="1495.36"/><rect x="1497.11"/><rect x="1498.86"/><rect x="1500.6"/><rect x="1502.35"/><rect x="1504.1"/><rect x="1507.59"/><rect x="1509.34"/><rect x="1511.08"/><rect x="1512.83"/><rect x="1514.58"/><rect x="1516.32"/><rect x="1518.07"/><rect x="1519.82"/><rect x="1521.57"/><rect x="1523.31"/><rect x="1525.06"/><rect x="1526.81"/><rect x="1528.55"/><rect x="1530.3"/><rect x="1532.05"/><rect x="1533.79"/><rect x="1535.54"/><rect x="1537.29"/><rect x="1539.03"/><rect x="1540.78"/><rect x="1542.53"/><rect x="1544.27"/><rect x="1546.02"/><rect x="1547.77"/><rect x="1549.51"/><rect x="1551.26"/><rect x="1553.01"/><rect x="1554.75"/><rect x="1556.5"/><rect x="1558.25"/><rect x="1559.99"/><rect x="1561.74"/><rect x="1563.49"/><rect x="1565.24"/><rect x="1566.98"/><rect x="1568.73"/><rect x="1570.48"/><rect x="1572.22"/><rect x="1573.97"/><rect x="1575.72"/><rect x="1577.46"/><rect x="1579.21"/><rect x="1580.96"/><rect x="1582.7"/><rect x="1584.45"/><rect x="1586.2"/><rect x="1587.94"/><rect x="1589.69"/><rect x="1591.44"/><rect x="1593.18"/><rect x="1594.93"/><rect x="1596.68"/><rect x="1598.42"/><rect x="1600.17"/><rect x="1601.92"/><rect x="1603.66"/><rect x="1605.41"/><rect x="1607.16"/><rect x="1608.91"/><rect x="1610.65"/><rect x="1612.4"/><rect x="1614.15"/><rect x="1615.89"/><rect x="1617.64"/><rect x="1619.39"/><rect x="1621.13"/><rect x="1622.88"/><rect x="1624.63"/><rect x="1626.37"/><rect x="1628.12"/><rect x="1629.87"/><rect x="1631.61"/><rect x="1633.36"/><rect x="1635.11"/><rect x="1636.85"/><rect x="1638.6"/><rect x="1640.35"/><rect x="1642.09"/><rect x="1643.84"/><rect x="1645.59"/><rect x="1647.33"/><rect x="1649.08"/><rect x="1650.83"/><rect x="1652.58"/><rect x="1654.32"/><rect x="1656.07"/><rect x="1657.82"/><rect x="1659.56"/><rect x="1661.31"/><rect x="1663.06"/><rect x="1664.8"/><rect x="1666.55"/><rect x="1668.3"/><rect x="1670.04"/><rect x="1671.79"/><rect x="1673.54"/><rect x="1675.28"/><rect x="1677.03"/><rect x="1678.78"/><rect x="1680.52"/><rect x="1682.27"/><rect x="1684.02"/><rect x="1685.76"/><rect x="1687.51"/><rect x="1689.26"/><rect x="1691"/><rect x="1692.75"/><rect x="1694.5"/><rect x="1696.25"/><rect x="1697.99"/><rect x="1699.74"/><rect x="1701.49"/><rect x="1703.23"/><rect x="1704.98"/><rect x="1706.73"/><rect x="1708.47"/><rect x="1710.22"/><rect x="1711.97"/><rect x="1713.71"/><rect x="1715.46"/><rect x="1717.21"/><rect x="1718.95"/><rect x="1720.7"/><rect x="1722.45"/><rect x="1724.19"/><rect x="1725.94"/><rect x="1727.69"/><rect x="1729.43"/><rect x="1731.18"/><rect x="1732.93"/><rect x="1734.67"/><rect x="1736.42"/><rect x="1738.17"/><rect x="1739.92"/><rect x="1741.66"/><rect x="1743.41"/><rect x="1745.16"/><rect x="1746.9"/><rect x="1748.65"/><rect x="1750.4"/><rect x="1752.14"/><rect x="1753.89"/><rect x="1755.64"/><rect x="1757.38"/><rect x="1759.13"/><rect x="1760.88"/><rect x="1762.62"/><rect x="1764.37"/><rect x="1766.12"/><rect x="1767.86"/><rect x="1769.61"/><rect x="1771.36"/><rect x="1773.1"/><rect x="1774.85"/><rect x="1776.6"/><rect x="1778.34"/><rect x="1780.09"/><rect x="1781.84"/><rect x="1783.59"/><rect x="1785.33"/><rect x="1787.08"/><rect x="1788.83"/><rect x="1790.57"/><rect x="1792.32"/><rect x="1794.07"/><rect x="1795.81"/><rect x="1797.56"/><rect x="1799.31"/><rect x="1801.05"/><rect x="1802.8"/><rect x="1804.55"/><rect x="1806.29"/><rect x="1808.04"/><rect x="1809.79"/><rect x="1811.53"/><rect x="1813.28"/><rect x="1815.03"/><rect x="1816.77"/><rect x="1818.52"/><rect x="1820.27"/><rect x="1822.01"/><rect x="1823.76"/><rect x="1825.51"/><rect x="1827.26"/><rect x="1829"/><rect x="1830.75"/><rect x="1832.5"/><rect x="1834.24"/><rect x="1835.99"/><rect x="1837.74"/><rect x="1839.48"/><rect x="1841.23"/><rect x="1842.98"/><rect x="1844.72"/><rect x="1846.47"/><rect x="1848.22"/><rect x="1849.96"/><rect x="1851.71"/><rect x="1853.46"/><rect x="1855.2"/><rect x="1856.95"/><rect x="1858.7"/><rect x="1860.44"/><rect x="1862.19"/><rect x="1863.94"/><rect x="1865.68"/><rect x="1867.43"/><rect x="1869.18"/><rect x="1870.93"/><rect x="1872.67"/><rect x="1874.42"/><rect x="1876.17"/><rect x="1877.91"/><rect x="1879.66"/><rect x="1881.41"/><rect x="1883.15"/><rect x="1884.9"/><rect x="1886.65"/><rect x="1888.39"/><rect x="1890.14"/><rect x="1891.89"/></g>
<g class="c" transform="translate(0,864)"><rect x="359.94"/><rect x="361.69"/><rect x="363.44"/><rect x="365.18"/><rect x="366.93"/><rect x="368.68"/><rect x="370.42"/><rect x="372.17"/><rect class="d" x="373.92"/><rect x="375.66"/><rect x="377.41"/><rect x="379.16"/><rect x="380.9"/><rect x="382.65"/><rect x="384.4"/><rect x="386.15"/><rect x="387.89"/><rect x="389.64"/><rect x="391.39"/><rect class="d" x="393.13"/><rect class="d" x="394.88"/><rect class="d" x="396.63"/><rect x="398.37"/><rect class="d" x="400.12"/><rect class="d" x="401.87"/><rect x="403.61"/><rect x="405.36"/><rect x="407.11"/><rect class="d" x="408.85"/><rect class="d" x="410.6"/><rect x="412.35"/><rect class="d" x="414.09"/><rect class="d" x="415.84"/><rect class="d" x="417.59"/><rect class="d" x="419.33"/><rect class="d" x="421.08"/><rect x="422.83"/><rect class="d" x="424.57"/><rect class="d" x="426.32"/><rect class="d" x="428.07"/><rect class="d" x="429.82"/><rect class="d" x="431.56"/><rect class="d" x="433.31"/><rect class="d" x="435.06"/><rect class="d" x="436.8"/><rect class="d" x="438.55"/><rect class="d" x="440.3"/><rect class="d" x="442.04"/><rect class="d" x="443.79"/><rect class="d" x="445.54"/><rect class="d" x="447.28"/><rect class="d" x="449.03"/><rect class="d" x="450.78"/><rect class="d" x="452.52"/><rect class="d" x="454.27"/><rect class="d" x="456.02"/><rect class="d" x="457.76"/><rect x="459.51"/><rect x="461.26"/><rect class="d" x="463"/><rect x="464.75"/><rect x="466.5"/><rect x="468.24"/><rect x="469.99"/><rect class="d" x="471.74"/><rect class="d" x="473.49"/><rect x="475.23"/><rect x="476.98"/><rect class="d" x="478.73"/><rect class="d" x="480.47"/><rect x="482.22"/><rect class="d" x="483.97"/><rect class="d" x="485.71"/><rect class="d" x="487.46"/><rect class="d" x="489.21"/><rect x="490.95"/><rect class="d" x="492.7"/><rect class="d" x="494.45"/><rect class="d" x="496.19"/><rect x="497.94"/><rect class="d" x="499.69"/><rect class="d" x="501.43"/><rect class="d" x="503.18"/><rect class="d" x="504.93"/><rect class="d" x="506.67"/><rect class="d" x="508.42"/><rect class="d" x="510.17"/><rect class="d" x="511.91"/><rect class="d" x="513.66"/><rect class="d" x="515.41"/><rect class="d" x="517.16"/><rect x="518.9"/><rect class="d" x="520.65"/><rect x="522.4"/><rect x="524.14"/><rect class="d" x="525.89"/><rect x="527.64"/><rect class="d" x="529.38"/><rect x="531.13"/><rect x="532.88"/><rect class="d" x="534.62"/><rect class="d" x="536.37"/><rect x="538.12"/><rect x="539.86"/><rect x="541.61"/><rect x="543.36"/><rect x="545.1"/><rect class="d" x="546.85"/><rect x="548.6"/><rect x="550.34"/><rect class="d" x="552.09"/><rect x="553.84"/><rect class="d" x="555.58"/><rect class="d" x="557.33"/><rect x="559.08"/><rect x="560.83"/><rect class="d" x="562.57"/><rect class="d" x="564.32"/><rect class="d" x="566.07"/><rect x="567.81"/><rect class="d" x="569.56"/><rect class="d" x="571.31"/><rect class="d" x="573.05"/><rect class="d" x="574.8"/><rect class="d" x="576.55"/><rect x="578.29"/><rect class="d" x="580.04"/><rect class="d" x="581.79"/><rect class="d" x="583.53"/><rect class="d" x="585.28"/><rect x="587.03"/><rect class="d" x="588.77"/><rect class="d" x="590.52"/><rect x="592.27"/><rect class="d" x="594.01"/><rect x="595.76"/><rect class="d" x="597.51"/><rect class="d" x="599.25"/><rect x="601"/><rect x="602.75"/><rect x="604.5"/><rect class="d" x="606.24"/><rect x="607.99"/><rect class="d" x="609.74"/><rect x="611.48"/><rect x="613.23"/><rect x="614.98"/><rect class="d" x="616.72"/><rect x="618.47"/><rect x="620.22"/><rect x="621.96"/><rect class="d" x="623.71"/><rect x="625.46"/><rect x="627.2"/><rect x="628.95"/><rect x="630.7"/><rect x="632.44"/><rect x="634.19"/><rect class="d" x="635.94"/><rect x="637.68"/><rect x="639.43"/><rect class="d" x="641.18"/><rect x="642.92"/><rect x="644.67"/><rect x="646.42"/><rect x="648.17"/><rect x="649.91"/><rect x="651.66"/><rect x="653.41"/><rect x="655.15"/><rect x="656.9"/><rect x="658.65"/><rect x="660.39"/><rect x="662.14"/><rect x="663.89"/><rect x="665.63"/><rect x="667.38"/><rect x="669.13"/><rect x="670.87"/><rect x="672.62"/><rect x="674.37"/><rect x="676.11"/><rect x="677.86"/><rect x="679.61"/><rect x="681.35"/><rect x="683.1"/><rect x="684.85"/><rect x="686.59"/><rect x="688.34"/><rect x="690.09"/><rect x="691.84"/><rect x="693.58"/><rect x="695.33"/><rect x="697.08"/><rect x="698.82"/><rect x="700.57"/><rect x="702.32"/><rect x="704.06"/><rect x="705.81"/><rect x="707.56"/><rect x="709.3"/><rect x="711.05"/><rect x="712.8"/><rect x="714.54"/><rect x="716.29"/><rect x="718.04"/><rect x="719.78"/><rect class="d" x="721.53"/><rect x="723.28"/><rect x="725.02"/><rect class="d" x="726.77"/><rect x="728.52"/><rect x="730.26"/><rect x="732.01"/><rect x="733.76"/><rect x="735.51"/><rect x="737.25"/><rect x="739"/><rect x="740.75"/><rect x="742.49"/><rect x="744.24"/><rect x="745.99"/><rect x="747.73"/><rect x="749.48"/><rect x="751.23"/><rect x="752.97"/><rect x="754.72"/><rect x="756.47"/><rect x="758.21"/><rect x="759.96"/><rect x="761.71"/><rect x="763.45"/><rect x="765.2"/><rect x="766.95"/><rect x="768.69"/><rect x="770.44"/><rect x="772.19"/><rect x="773.93"/><rect x="775.68"/><rect x="777.43"/><rect x="779.18"/><rect class="d" x="780.92"/><rect x="782.67"/><rect x="784.42"/><rect x="786.16"/><rect x="787.91"/><rect x="789.66"/><rect x="791.4"/><rect x="793.15"/><rect x="794.9"/><rect x="796.64"/><rect x="798.39"/><rect x="800.14"/><rect x="801.88"/><rect x="803.63"/><rect x="805.38"/><rect x="807.12"/><rect x="808.87"/><rect x="810.62"/><rect x="812.36"/><rect x="814.11"/><rect x="815.86"/><rect x="817.6"/><rect x="819.35"/><rect x="821.1"/><rect x="822.85"/><rect x="824.59"/><rect x="826.34"/><rect x="828.09"/><rect x="829.83"/><rect x="831.58"/><rect x="833.33"/><rect x="835.07"/><rect x="836.82"/><rect x="838.57"/><rect x="840.31"/><rect x="842.06"/><rect x="843.81"/><rect x="845.55"/><rect x="847.3"/><rect x="849.05"/><rect x="850.79"/><rect x="852.54"/><rect x="854.29"/><rect x="856.03"/><rect x="857.78"/><rect x="859.53"/><rect x="861.27"/><rect x="863.02"/><rect x="864.77"/><rect x="866.52"/><rect x="868.26"/><rect x="870.01"/><rect x="871.76"/><rect x="873.5"/><rect x="875.25"/><rect x="877"/><rect x="878.74"/><rect x="880.49"/><rect x="882.24"/><rect x="883.98"/><rect x="885.73"/><rect x="887.48"/><rect x="889.22"/><rect x="890.97"/><rect x="892.72"/><rect x="894.46"/><rect x="896.21"/><rect x="897.96"/><rect x="899.7"/><rect x="901.45"/><rect x="903.2"/><rect x="904.94"/><rect x="906.69"/><rect x="908.44"/><rect x="910.19"/><rect x="911.93"/><rect x="913.68"/><rect x="915.43"/><rect x="917.17"/><rect x="918.92"/><rect x="920.67"/><rect x="922.41"/><rect x="924.16"/><rect x="925.91"/><rect x="927.65"/><rect x="929.4"/><rect x="931.15"/><rect x="932.89"/><rect x="934.64"/><rect x="936.39"/><rect x="938.13"/><rect x="939.88"/><rect x="941.63"/><rect x="943.37"/><rect x="945.12"/><rect x="946.87"/><rect x="948.61"/><rect x="950.36"/><rect x="952.11"/><rect x="953.86"/><rect x="955.6"/><rect x="957.35"/><rect x="959.1"/><rect x="960.84"/><rect x="962.59"/><rect x="964.34"/><rect x="966.08"/><rect x="967.83"/><rect x="969.58"/><rect x="971.32"/><rect x="973.07"/><rect x="974.82"/><rect x="976.56"/><rect x="978.31"/><rect x="980.06"/><rect x="981.8"/><rect x="983.55"/><rect x="985.3"/><rect x="987.04"/><rect x="988.79"/><rect x="990.54"/><rect x="992.28"/><rect x="994.03"/><rect x="995.78"/><rect x="997.53"/><rect x="999.27"/><rect x="1001.02"/><rect x="1002.77"/><rect x="1004.51"/><rect x="1006.26"/><rect x="1008.01"/><rect x="1009.75"/><rect x="1011.5"/><rect x="1013.25"/><rect x="1014.99"/><rect x="1016.74"/><rect x="1018.49"/><rect x="1020.23"/><rect x="1021.98"/><rect x="1023.73"/><rect x="1025.47"/><rect x="1027.22"/><rect x="1028.97"/><rect x="1030.71"/><rect x="1032.46"/><rect x="1034.21"/><rect x="1035.95"/><rect x="1037.7"/><rect x="1039.45"/><rect x="1041.2"/><rect x="1042.94"/><rect x="1044.69"/><rect x="1046.44"/><rect x="1048.18"/><rect x="1049.93"/><rect x="1051.68"/><rect x="1053.42"/><rect x="1055.17"/><rect x="1056.92"/><rect x="1058.66"/><rect x="1060.41"/><rect x="1062.16"/><rect x="1063.9"/><rect x="1065.65"/><rect x="1067.4"/><rect x="1069.14"/><rect x="1070.89"/><rect x="1072.64"/><rect x="1074.38"/><rect x="1076.13"/><rect x="1077.88"/><rect x="1079.62"/><rect x="1081.37"/><rect x="1083.12"/><rect x="1084.87"/><rect x="1086.61"/><rect x="1088.36"/><rect x="1090.11"/><rect x="1091.85"/><rect x="1093.6"/><rect x="1095.35"/><rect x="1097.09"/><rect x="1098.84"/><rect x="1100.59"/><rect x="1102.33"/><rect x="1104.08"/><rect x="1105.83"/><rect x="1107.57"/><rect x="1109.32"/><rect x="1111.07"/><rect x="1112.81"/><rect x="1114.56"/><rect x="1116.31"/><rect x="1118.05"/><rect x="1119.8"/><rect x="1121.55"/><rect x="1123.29"/><rect x="1125.04"/><rect x="1126.79"/><rect x="1128.54"/><rect x="1130.28"/><rect x="1132.03"/><rect x="1133.78"/><rect x="1135.52"/><rect x="1137.27"/><rect x="1139.02"/><rect x="1140.76"/><rect x="1142.51"/><rect x="1144.26"/><rect x="1146"/><rect x="1147.75"/><rect x="1149.5"/><rect x="1151.24"/><rect x="1152.99"/><rect x="1154.74"/><rect x="1156.48"/><rect x="1158.23"/><rect x="1159.98"/><rect x="1161.72"/><rect x="1163.47"/><rect x="1165.22"/><rect x="1166.96"/><rect x="1168.71"/><rect x="1170.46"/><rect x="1172.21"/><rect x="1173.95"/><rect x="1175.7"/><rect x="1177.45"/><rect x="1179.19"/><rect x="1180.94"/><rect x="1182.69"/><rect x="1184.43"/><rect x="1186.18"/><rect x="1187.93"/><rect x="1189.67"/><rect x="1191.42"/><rect x="1193.17"/><rect x="1194.91"/><rect x="1196.66"/><rect class="d" x="1198.41"/><rect x="1200.15"/><rect x="1201.9"/><rect x="1203.65"/><rect x="1205.39"/><rect x="1207.14"/><rect x="1208.89"/><rect x="1210.63"/><rect x="1212.38"/><rect x="1214.13"/><rect x="1215.88"/><rect x="1217.62"/><rect x="1219.37"/><rect x="1221.12"/><rect class="d" x="1222.86"/><rect x="1224.61"/><rect x="1226.36"/><rect x="1228.1"/><rect x="1229.85"/><rect x="1231.6"/><rect x="1233.34"/><rect x="1235.09"/><rect x="1236.84"/><rect x="1238.58"/><rect x="1240.33"/><rect x="1242.08"/><rect x="1243.82"/><rect x="1245.57"/><rect x="1247.32"/><rect x="1249.06"/><rect x="1250.81"/><rect x="1252.56"/><rect x="1254.3"/><rect x="1256.05"/><rect x="1257.8"/><rect x="1259.55"/><rect x="1261.29"/><rect x="1263.04"/><rect x="1264.79"/><rect x="1266.53"/><rect x="1268.28"/><rect x="1270.03"/><rect x="1271.77"/><rect x="1273.52"/><rect x="1275.27"/><rect x="1277.01"/><rect x="1278.76"/><rect x="1280.51"/><rect x="1282.25"/><rect x="1284"/><rect x="1285.75"/><rect x="1287.49"/><rect x="1289.24"/><rect x="1290.99"/><rect x="1292.73"/><rect x="1294.48"/><rect x="1296.23"/><rect x="1297.97"/><rect x="1299.72"/><rect x="1301.47"/><rect x="1303.22"/><rect x="1304.96"/><rect x="1306.71"/><rect x="1308.46"/><rect x="1310.2"/><rect x="1311.95"/><rect x="1313.7"/><rect x="1315.44"/><rect x="1317.19"/><rect x="1318.94"/><rect x="1320.68"/><rect x="1322.43"/><rect x="1324.18"/><rect x="1325.92"/><rect x="1327.67"/><rect x="1329.42"/><rect x="1331.16"/><rect x="1332.91"/><rect x="1334.66"/><rect x="1336.4"/><rect x="1338.15"/><rect x="1339.9"/><rect x="1341.64"/><rect x="1343.39"/><rect x="1345.14"/><rect x="1346.89"/><rect x="1348.63"/><rect x="1350.38"/><rect x="1352.13"/><rect x="1353.87"/><rect x="1355.62"/><rect x="1357.37"/><rect x="1359.11"/><rect x="1360.86"/><rect x="1362.61"/><rect x="1364.35"/><rect x="1366.1"/><rect x="1367.85"/><rect x="1369.59"/><rect x="1371.34"/><rect x="1373.09"/><rect x="1374.83"/><rect x="1376.58"/><rect x="1378.33"/><rect x="1380.07"/><rect x="1381.82"/><rect x="1383.57"/><rect x="1385.31"/><rect x="1387.06"/><rect x="1388.81"/><rect x="1390.56"/><rect x="1392.3"/><rect x="1394.05"/><rect x="1395.8"/><rect x="1397.54"/><rect x="1399.29"/><rect x="1401.04"/><rect x="1402.78"/><rect x="1404.53"/><rect x="1406.28"/><rect x="1408.02"/><rect x="1409.77"/><rect x="1411.52"/><rect x="1413.26"/><rect x="1415.01"/><rect x="1416.76"/><rect x="1418.5"/><rect x="1420.25"/><rect x="1422"/><rect x="1423.74"/><rect x="1425.49"/><rect x="1427.24"/><rect x="1428.98"/><rect x="1430.73"/><rect x="1432.48"/><rect x="1434.23"/><rect x="1435.97"/><rect x="1437.72"/><rect x="1439.47"/><rect x="1441.21"/><rect x="1442.96"/><rect x="1444.71"/><rect x="1446.45"/><rect x="1448.2"/><rect x="1449.95"/><rect x="1451.69"/><rect x="1453.44"/><rect x="1455.19"/><rect x="1456.93"/><rect x="1458.68"/><rect x="1460.43"/><rect x="1462.17"/><rect x="1463.92"/><rect x="1465.67"/><rect x="1467.41"/><rect x="1469.16"/><rect x="1470.91"/><rect x="1472.65"/><rect x="1474.4"/><rect x="1476.15"/><rect x="1477.9"/><rect x="1479.64"/><rect x="1481.39"/><rect x="1483.14"/><rect x="1484.88"/><rect x="1486.63"/><rect x="1488.38"/><rect x="1490.12"/><rect class="d" x="1491.87"/><rect x="1493.62"/><rect x="1495.36"/><rect x="1497.11"/><rect class="d" x="1498.86"/><rect x="1500.6"/><rect x="1502.35"/><rect x="1504.1"/><rect x="1505.84"/><rect x="1507.59"/><rect x="1509.34"/><rect x="1511.08"/><rect x="1512.83"/><rect x="1514.58"/><rect x="1516.32"/><rect x="1518.07"/><rect x="1519.82"/><rect x="1521.57"/><rect x="1523.31"/><rect x="1525.06"/><rect x="1526.81"/><rect x="1528.55"/><rect x="1530.3"/><rect x="1532.05"/><rect x="1533.79"/><rect x="1535.54"/><rect x="1537.29"/><rect x="1539.03"/><rect x="1540.78"/><rect x="1542.53"/><rect x="1544.27"/><rect x="1546.02"/><rect x="1547.77"/><rect x="1549.51"/><rect x="1551.26"/><rect x="1553.01"/><rect x="1554.75"/><rect x="1556.5"/><rect x="1558.25"/><rect x="1559.99"/><rect x="1561.74"/><rect x="1563.49"/><rect x="1565.24"/><rect x="1566.98"/><rect x="1568.73"/><rect x="1570.48"/><rect x="1572.22"/><rect x="1573.97"/><rect x="1575.72"/><rect x="1577.46"/><rect x="1579.21"/><rect x="1580.96"/><rect x="1582.7"/><rect x="1584.45"/><rect x="1586.2"/><rect x="1587.94"/><rect x="1589.69"/><rect x="1591.44"/><rect x="1593.18"/><rect x="1594.93"/><rect x="1596.68"/><rect x="1598.42"/><rect x="1600.17"/><rect x="1601.92"/><rect x="1603.66"/><rect x="1605.41"/><rect x="1607.16"/><rect x="1608.91"/><rect x="1610.65"/><rect x="1612.4"/><rect x="1614.15"/><rect x="1615.89"/><rect x="1617.64"/><rect x="1619.39"/><rect x="1621.13"/><rect x="1622.88"/><rect x="1624.63"/><rect x="1626.37"/><rect x="1628.12"/><rect x="1629.87"/><rect x="1631.61"/><rect x="1633.36"/><rect x="1635.11"/><rect x="1636.85"/><rect x="1638.6"/><rect x="1640.35"/><rect x="1642.09"/><rect x="1643.84"/><rect x="1645.59"/><rect x="1647.33"/><rect x="1649.08"/><rect x="1650.83"/><rect x="1652.58"/><rect x="1654.32"/><rect x="1656.07"/><rect x="1657.82"/><rect x="1659.56"/><rect x="1661.31"/><rect x="1663.06"/><rect x="1664.8"/><rect x="1666.55"/><rect x="1668.3"/><rect x="1670.04"/><rect x="1671.79"/><rect x="1673.54"/><rect x="1675.28"/><rect x="1677.03"/><rect x="1678.78"/><rect x="1680.52"/><rect x="1682.27"/><rect x="1684.02"/><rect x="1685.76"/><rect x="1687.51"/><rect x="1689.26"/><rect x="1691"/><rect x="1692.75"/><rect x="1694.5"/><rect x="1696.25"/><rect x="1697.99"/><rect x="1699.74"/><rect x="1701.49"/><rect x="1703.23"/><rect x="1704.98"/><rect x="1706.73"/><rect x="1708.47"/><rect x="1710.22"/><rect x="1711.97"/><rect x="1713.71"/><rect x="1715.46"/><rect x="1717.21"/><rect x="1718.95"/><rect x="1720.7"/><rect x="1722.45"/><rect x="1724.19"/><rect x="1725.94"/><rect x="1727.69"/><rect x="1731.18"/><rect x="1732.93"/><rect x="1734.67"/><rect x="1736.42"/><rect x="1738.17"/><rect x="1739.92"/><rect x="1741.66"/><rect x="1743.41"/><rect x="1745.16"/><rect x="1746.9"/><rect x="1748.65"/><rect x="1750.4"/><rect x="1752.14"/><rect x="1753.89"/><rect x="1755.64"/><rect x="1757.38"/><rect x="1759.13"/><rect x="1760.88"/><rect x="1762.62"/><rect x="1764.37"/><rect x="1766.12"/><rect x="1767.86"/><rect x="1769.61"/><rect x="1771.36"/><rect x="1773.1"/><rect x="1774.85"/><rect x="1776.6"/><rect x="1778.34"/><rect x="1780.09"/><rect x="1781.84"/><rect x="1783.59"/><rect x="1785.33"/><rect x="1787.08"/><rect x="1788.83"/><rect x="1790.57"/><rect x="1792.32"/><rect x="1794.07"/><rect x="1795.81"/><rect x="1797.56"/><rect x="1799.31"/><rect x="1801.05"/><rect x="1802.8"/><rect x="1804.55"/><rect x="1806.29"/><rect x="1808.04"/><rect x="1809.79"/><rect x="1811.53"/><rect x="1813.28"/><rect x="1815.03"/><rect x="1816.77"/><rect x="1818.52"/><rect x="1820.27"/><rect x="1822.01"/><rect x="1823.76"/><rect x="1825.51"/><rect x="1827.26"/><rect x="1829"/><rect x="1830.75"/><rect x="1832.5"/><rect x="1834.24"/><rect x="1835.99"/><rect x="1837.74"/><rect x="1839.48"/><rect x="1841.23"/><rect x="1842.98"/><rect x="1844.72"/><rect x="1846.47"/><rect x="1848.22"/><rect x="1849.96"/><rect x="1851.71"/><rect x="1853.46"/><rect x="1855.2"/><rect x="1856.95"/><rect x="1858.7"/><rect x="1860.44"/><rect x="1862.19"/><rect x="1863.94"/><rect x="1865.68"/><rect x="1867.43"/><rect x="1869.18"/><rect x="1870.93"/><rect x="1872.67"/><rect x="1874.42"/><rect x="1876.17"/><rect x="1877.91"/><rect x="1879.66"/><rect x="1881.41"/><rect x="1883.15"/><rect x="1884.9"/><rect x="1886.65"/><rect x="1888.39"/><rect x="1890.14"/></g>
<g class="c" transform="translate(0,997.33)"><rect x="361.69"/><rect x="363.44"/><rect class="d" x="365.18"/><rect x="366.93"/><rect x="368.68"/><rect class="d" x="370.42"/><rect x="372.17"/><rect x="373.92"/><rect x="375.66"/><rect x="377.41"/><rect class="d" x="379.16"/><rect class="d" x="380.9"/><rect class="d" x="382.65"/><rect class="d" x="384.4"/><rect class="d" x="386.15"/><rect class="d" x="387.89"/><rect class="d" x="389.64"/><rect class="d" x="391.39"/><rect class="d" x="393.13"/><rect class="d" x="394.88"/><rect class="d" x="396.63"/><rect class="d" x="398.37"/><rect class="d" x="401.87"/><rect class="d" x="403.61"/><rect class="d" x="405.36"/><rect class="d" x="407.11"/><rect class="d" x="408.85"/><rect class="d" x="410.6"/><rect class="d" x="412.35"/><rect class="d" x="414.09"/><rect class="d" x="415.84"/><rect class="d" x="417.59"/><rect class="d" x="419.33"/><rect class="d" x="421.08"/><rect class="d" x="422.83"/><rect class="d" x="424.57"/><rect class="d" x="426.32"/><rect class="d" x="428.07"/><rect class="d" x="429.82"/><rect class="d" x="431.56"/><rect class="d" x="433.31"/><rect class="d" x="435.06"/><rect class="d" x="436.8"/><rect class="d" x="438.55"/><rect class="d" x="440.3"/><rect class="d" x="442.04"/><rect class="d" x="443.79"/><rect class="d" x="445.54"/><rect class="d" x="447.28"/><rect class="d" x="449.03"/><rect class="d" x="450.78"/><rect class="d" x="452.52"/><rect class="d" x="454.27"/><rect class="d" x="456.02"/><rect class="d" x="457.76"/><rect class="d" x="459.51"/><rect class="d" x="461.26"/><rect class="d" x="463"/><rect class="d" x="464.75"/><rect class="d" x="466.5"/><rect class="d" x="468.24"/><rect class="d" x="469.99"/><rect class="d" x="471.74"/><rect class="d" x="473.49"/><rect class="d" x="475.23"/><rect class="d" x="476.98"/><rect class="d" x="478.73"/><rect class="d" x="480.47"/><rect class="d" x="482.22"/><rect class="d" x="483.97"/><rect class="d" x="485.71"/><rect class="d" x="487.46"/><rect class="d" x="489.21"/><rect class="d" x="490.95"/><rect class="d" x="492.7"/><rect class="d" x="494.45"/><rect class="d" x="496.19"/><rect class="d" x="497.94"/><rect class="d" x="499.69"/><rect class="d" x="501.43"/><rect class="d" x="503.18"/><rect class="d" x="504.93"/><rect class="d" x="506.67"/><rect class="d" x="508.42"/><rect class="d" x="510.17"/><rect class="d" x="511.91"/><rect class="d" x="513.66"/><rect class="d" x="515.41"/><rect class="d" x="517.16"/><rect class="d" x="518.9"/><rect class="d" x="520.65"/><rect class="d" x="524.14"/><rect class="d" x="525.89"/><rect class="d" x="529.38"/><rect class="d" x="531.13"/><rect class="d" x="532.88"/><rect class="d" x="534.62"/><rect class="d" x="536.37"/><rect class="d" x="538.12"/><rect class="d" x="539.86"/><rect class="d" x="543.36"/><rect class="d" x="545.1"/><rect class="d" x="546.85"/><rect class="d" x="548.6"/><rect class="d" x="550.34"/><rect class="d" x="552.09"/><rect class="d" x="553.84"/><rect class="d" x="555.58"/><rect class="d" x="557.33"/><rect class="d" x="559.08"/><rect class="d" x="560.83"/><rect class="d" x="562.57"/><rect class="d" x="564.32"/><rect class="d" x="566.07"/><rect class="d" x="567.81"/><rect class="d" x="569.56"/><rect class="d" x="571.31"/><rect class="d" x="573.05"/><rect class="d" x="574.8"/><rect class="d" x="576.55"/><rect class="d" x="578.29"/><rect class="d" x="580.04"/><rect class="d" x="581.79"/><rect class="d" x="583.53"/><rect class="d" x="585.28"/><rect class="d" x="588.77"/><rect class="d" x="590.52"/><rect class="d" x="592.27"/><rect class="d" x="594.01"/><rect class="d" x="595.76"/><rect x="597.51"/><rect class="d" x="599.25"/><rect x="601"/><rect class="d" x="602.75"/><rect x="604.5"/><rect class="d" x="606.24"/><rect class="d" x="609.74"/><rect class="d" x="611.48"/><rect x="613.23"/><rect x="614.98"/><rect class="d" x="616.72"/><rect x="618.47"/><rect class="d" x="620.22"/><rect class="d" x="621.96"/><rect class="d" x="623.71"/><rect class="d" x="625.46"/><rect class="d" x="627.2"/><rect x="628.95"/><rect x="630.7"/><rect class="d" x="632.44"/><rect x="634.19"/><rect class="d" x="635.94"/><rect class="d" x="637.68"/><rect class="d" x="639.43"/><rect x="641.18"/><rect class="d" x="642.92"/><rect class="d" x="644.67"/><rect x="648.17"/><rect class="d" x="649.91"/><rect x="651.66"/><rect x="653.41"/><rect x="655.15"/><rect class="d" x="656.9"/><rect class="d" x="658.65"/><rect x="660.39"/><rect x="662.14"/><rect x="663.89"/><rect class="d" x="665.63"/><rect class="d" x="667.38"/><rect class="d" x="669.13"/><rect x="670.87"/><rect x="672.62"/><rect class="d" x="674.37"/><rect x="676.11"/><rect x="677.86"/><rect class="d" x="679.61"/><rect x="681.35"/><rect class="d" x="683.1"/><rect x="684.85"/><rect class="d" x="686.59"/><rect x="688.34"/><rect x="690.09"/><rect x="691.84"/><rect x="693.58"/><rect x="695.33"/><rect x="697.08"/><rect x="698.82"/><rect x="700.57"/><rect x="702.32"/><rect x="704.06"/><rect x="705.81"/><rect x="707.56"/><rect x="709.3"/><rect x="711.05"/><rect x="712.8"/><rect x="714.54"/><rect x="716.29"/><rect x="718.04"/><rect x="719.78"/><rect x="721.53"/><rect x="723.28"/><rect x="725.02"/><rect x="726.77"/><rect class="d" x="728.52"/><rect class="d" x="730.26"/><rect x="732.01"/><rect x="733.76"/><rect x="735.51"/><rect x="737.25"/><rect x="739"/><rect x="740.75"/><rect x="742.49"/><rect x="744.24"/><rect x="745.99"/><rect x="747.73"/><rect x="749.48"/><rect class="d" x="751.23"/><rect x="752.97"/><rect x="754.72"/><rect x="756.47"/><rect x="758.21"/><rect x="759.96"/><rect class="d" x="761.71"/><rect x="763.45"/><rect x="765.2"/><rect x="766.95"/><rect x="768.69"/><rect x="770.44"/><rect x="772.19"/><rect x="773.93"/><rect x="775.68"/><rect class="d" x="777.43"/><rect x="779.18"/><rect x="780.92"/><rect x="782.67"/><rect x="784.42"/><rect class="d" x="786.16"/><rect class="d" x="787.91"/><rect class="d" x="789.66"/><rect x="791.4"/><rect x="793.15"/><rect x="794.9"/><rect x="796.64"/><rect x="798.39"/><rect x="800.14"/><rect class="d" x="801.88"/><rect class="d" x="803.63"/><rect class="d" x="805.38"/><rect class="d" x="807.12"/><rect x="808.87"/><rect x="810.62"/><rect class="d" x="812.36"/><rect class="d" x="814.11"/><rect x="817.6"/><rect x="819.35"/><rect x="821.1"/><rect class="d" x="822.85"/><rect x="824.59"/><rect x="826.34"/><rect x="828.09"/><rect x="829.83"/><rect x="831.58"/><rect x="833.33"/><rect x="836.82"/><rect x="838.57"/><rect x="840.31"/><rect x="842.06"/><rect x="843.81"/><rect x="845.55"/><rect x="847.3"/><rect x="849.05"/><rect x="850.79"/><rect x="852.54"/><rect x="854.29"/><rect x="856.03"/><rect x="857.78"/><rect x="859.53"/><rect x="861.27"/><rect x="863.02"/><rect x="864.77"/><rect x="866.52"/><rect x="868.26"/><rect x="870.01"/><rect x="871.76"/><rect x="873.5"/><rect x="875.25"/><rect x="877"/><rect x="878.74"/><rect x="880.49"/><rect x="882.24"/><rect x="883.98"/><rect x="885.73"/><rect x="887.48"/><rect x="889.22"/><rect x="890.97"/><rect x="892.72"/><rect x="894.46"/><rect x="896.21"/><rect x="897.96"/><rect x="899.7"/><rect x="901.45"/><rect x="903.2"/><rect x="904.94"/><rect x="906.69"/><rect x="908.44"/><rect x="910.19"/><rect x="911.93"/><rect x="913.68"/><rect x="915.43"/><rect x="917.17"/><rect x="918.92"/><rect x="920.67"/><rect x="922.41"/><rect x="924.16"/><rect x="925.91"/><rect x="927.65"/><rect x="929.4"/><rect x="931.15"/><rect x="932.89"/><rect x="934.64"/><rect x="936.39"/><rect x="938.13"/><rect x="939.88"/><rect x="941.63"/><rect x="943.37"/><rect x="945.12"/><rect x="946.87"/><rect x="948.61"/><rect x="950.36"/><rect x="952.11"/><rect x="953.86"/><rect x="955.6"/><rect x="957.35"/><rect x="959.1"/><rect x="960.84"/><rect x="962.59"/><rect x="964.34"/><rect x="966.08"/><rect x="967.83"/><rect x="969.58"/><rect x="971.32"/><rect x="973.07"/><rect x="974.82"/><rect x="976.56"/><rect x="978.31"/><rect x="980.06"/><rect x="981.8"/><rect x="983.55"/><rect x="985.3"/><rect x="987.04"/><rect x="988.79"/><rect x="990.54"/><rect x="992.28"/><rect x="994.03"/><rect x="995.78"/><rect x="997.53"/><rect class="d" x="999.27"/><rect x="1001.02"/><rect x="1002.77"/><rect x="1004.51"/><rect x="1006.26"/><rect x="1008.01"/><rect x="1009.75"/><rect x="1011.5"/><rect x="1013.25"/><rect x="1014.99"/><rect x="1016.74"/><rect x="1018.49"/><rect x="1020.23"/><rect x="1021.98"/><rect x="1023.73"/><rect x="1025.47"/><rect x="1027.22"/><rect x="1028.97"/><rect x="1030.71"/><rect x="1032.46"/><rect x="1034.21"/><rect x="1035.95"/><rect x="1037.7"/><rect x="1039.45"/><rect x="1041.2"/><rect x="1042.94"/><rect x="1044.69"/><rect x="1046.44"/><rect x="1048.18"/><rect x="1049.93"/><rect x="1051.68"/><rect x="1053.42"/><rect x="1055.17"/><rect x="1056.92"/><rect x="1058.66"/><rect x="1060.41"/><rect x="1062.16"/><rect x="1063.9"/><rect x="1065.65"/><rect x="1067.4"/><rect x="1069.14"/><rect x="1070.89"/><rect x="1072.64"/><rect x="1074.38"/><rect class="d" x="1076.13"/><rect x="1077.88"/><rect x="1079.62"/><rect x="1081.37"/><rect x="1083.12"/><rect x="1084.87"/><rect x="1086.61"/><rect x="1088.36"/><rect x="1090.11"/><rect x="1091.85"/><rect x="1093.6"/><rect x="1095.35"/><rect x="1097.09"/><rect x="1098.84"/><rect x="1100.59"/><rect x="1102.33"/><rect x="1104.08"/><rect x="1105.83"/><rect x="1107.57"/><rect x="1109.32"/><rect x="1111.07"/><rect x="1112.81"/><rect x="1114.56"/><rect x="1116.31"/><rect x="1118.05"/><rect x="1119.8"/><rect x="1121.55"/><rect x="1123.29"/><rect x="1125.04"/><rect x="1126.79"/><rect x="1128.54"/><rect x="1130.28"/><rect x="1132.03"/><rect x="1133.78"/><rect x="1135.52"/><rect x="1137.27"/><rect x="1139.02"/><rect x="1140.76"/><rect x="1142.51"/><rect x="1144.26"/><rect x="1146"/><rect x="1147.75"/><rect x="1149.5"/><rect x="1151.24"/><rect x="1152.99"/><rect x="1154.74"/><rect class="d" x="1156.48"/><rect x="1158.23"/><rect x="1159.98"/><rect class="d" x="1161.72"/><rect class="d" x="1163.47"/><rect x="1165.22"/><rect x="1166.96"/><rect class="d" x="1168.71"/><rect class="d" x="1170.46"/><rect x="1172.21"/><rect x="1173.95"/><rect x="1175.7"/><rect x="1177.45"/><rect class="d" x="1179.19"/><rect x="1180.94"/><rect x="1182.69"/><rect x="1184.43"/><rect x="1186.18"/><rect x="1187.93"/><rect x="1189.67"/><rect x="1191.42"/><rect class="d" x="1193.17"/><rect class="d" x="1194.91"/><rect class="d" x="1196.66"/><rect x="1198.41"/><rect x="1200.15"/><rect x="1201.9"/><rect class="d" x="1203.65"/><rect x="1205.39"/><rect x="1207.14"/><rect x="1208.89"/><rect x="1210.63"/><rect x="1212.38"/><rect class="d" x="1214.13"/><rect x="1215.88"/><rect class="d" x="1217.62"/><rect class="d" x="1219.37"/><rect x="1221.12"/><rect x="1222.86"/><rect class="d" x="1224.61"/><rect x="1226.36"/><rect x="1228.1"/><rect x="1229.85"/><rect x="1233.34"/><rect x="1235.09"/><rect x="1236.84"/><rect x="1238.58"/><rect x="1240.33"/><rect x="1242.08"/><rect class="d" x="1243.82"/><rect x="1245.57"/><rect x="1247.32"/><rect x="1249.06"/><rect x="1250.81"/><rect x="1252.56"/><rect x="1254.3"/><rect x="1256.05"/><rect x="1257.8"/><rect x="1259.55"/><rect x="1261.29"/><rect x="1263.04"/><rect x="1264.79"/><rect x="1266.53"/><rect x="1268.28"/><rect x="1270.03"/><rect class="d" x="1271.77"/><rect x="1273.52"/><rect x="1275.27"/><rect x="1277.01"/><rect x="1278.76"/><rect x="1280.51"/><rect x="1282.25"/><rect class="d" x="1284"/><rect x="1285.75"/><rect x="1287.49"/><rect x="1289.24"/><rect class="d" x="1290.99"/><rect x="1292.73"/><rect x="1294.48"/><rect x="1296.23"/><rect x="1297.97"/><rect x="1299.72"/><rect x="1301.47"/><rect x="1303.22"/><rect class="d" x="1304.96"/><rect x="1306.71"/><rect x="1308.46"/><rect x="1310.2"/><rect x="1311.95"/><rect x="1313.7"/><rect x="1315.44"/><rect x="1317.19"/><rect x="1318.94"/><rect x="1320.68"/><rect x="1322.43"/><rect x="1324.18"/><rect x="1325.92"/><rect x="1327.67"/><rect x="1329.42"/><rect x="1331.16"/><rect x="1332.91"/><rect x="1334.66"/><rect x="1336.4"/><rect x="1338.15"/><rect x="1339.9"/><rect x="1341.64"/><rect x="1343.39"/><rect x="1345.14"/><rect x="1346.89"/><rect x="1348.63"/><rect x="1350.38"/><rect x="1352.13"/><rect x="1353.87"/><rect x="1355.62"/><rect x="1357.37"/><rect x="1359.11"/><rect x="1360.86"/><rect x="1362.61"/><rect x="1364.35"/><rect x="1366.1"/><rect x="1367.85"/><rect x="1369.59"/><rect x="1371.34"/><rect x="1373.09"/><rect x="1374.83"/><rect x="1376.58"/><rect x="1378.33"/><rect x="1380.07"/><rect x="1381.82"/><rect x="1383.57"/><rect x="1385.31"/><rect x="1387.06"/><rect x="1388.81"/><rect x="1390.56"/><rect x="1392.3"/><rect x="1394.05"/><rect x="1395.8"/><rect x="1397.54"/><rect x="1399.29"/><rect x="1401.04"/><rect x="1402.78"/><rect x="1404.53"/><rect x="1406.28"/><rect x="1408.02"/><rect x="1409.77"/><rect x="1411.52"/><rect x="1413.26"/><rect x="1415.01"/><rect x="1416.76"/><rect x="1418.5"/><rect x="1420.25"/><rect x="1422"/><rect x="1423.74"/><rect x="1425.49"/><rect x="1427.24"/><rect x="1428.98"/><rect x="1430.73"/><rect x="1432.48"/><rect x="1435.97"/><rect x="1437.72"/><rect x="1439.47"/><rect x="1441.21"/><rect x="1442.96"/><rect x="1444.71"/><rect x="1446.45"/><rect x="1448.2"/><rect x="1449.95"/><rect x="1451.69"/><rect x="1453.44"/><rect x="1455.19"/><rect x="1456.93"/><rect x="1458.68"/><rect x="1460.43"/><rect x="1462.17"/><rect x="1463.92"/><rect x="1465.67"/><rect x="1467.41"/><rect x="1469.16"/><rect x="1470.91"/><rect x="1472.65"/><rect x="1474.4"/><rect x="1476.15"/><rect x="1477.9"/><rect x="1479.64"/><rect x="1481.39"/><rect x="1483.14"/><rect x="1484.88"/><rect x="1486.63"/><rect x="1488.38"/><rect x="1490.12"/><rect x="1491.87"/><rect x="1493.62"/><rect x="1495.36"/><rect x="1497.11"/><rect x="1498.86"/><rect x="1500.6"/><rect x="1502.35"/><rect x="1504.1"/><rect x="1505.84"/><rect x="1507.59"/><rect x="1509.34"/><rect x="1511.08"/><rect x="1512.83"/><rect class="d" x="1514.58"/><rect x="1516.32"/><rect x="1518.07"/><rect class="d" x="1519.82"/><rect x="1521.57"/><rect x="1523.31"/><rect x="1525.06"/><rect x="1526.81"/><rect x="1528.55"/><rect x="1530.3"/><rect x="1532.05"/><rect x="1533.79"/><rect x="1535.54"/><rect x="1537.29"/><rect x="1539.03"/><rect x="1540.78"/><rect x="1542.53"/><rect x="1544.27"/><rect x="1546.02"/><rect x="1547.77"/><rect x="1549.51"/><rect x="1551.26"/><rect x="1553.01"/><rect x="1554.75"/><rect x="1556.5"/><rect x="1558.25"/><rect x="1559.99"/><rect x="1561.74"/><rect x="1563.49"/><rect x="1565.24"/><rect x="1566.98"/><rect x="1568.73"/><rect x="1570.48"/><rect x="1572.22"/><rect x="1573.97"/><rect x="1575.72"/><rect x="1577.46"/><rect x="1579.21"/><rect x="1580.96"/><rect x="1582.7"/><rect x="1584.45"/><rect x="1589.69"/><rect x="1591.44"/><rect x="1593.18"/><rect x="1594.93"/><rect x="1596.68"/><rect x="1598.42"/><rect x="1600.17"/><rect x="1601.92"/><rect x="1603.66"/><rect x="1605.41"/><rect x="1607.16"/><rect x="1608.91"/><rect x="1610.65"/><rect x="1612.4"/><rect x="1614.15"/><rect x="1615.89"/><rect x="1617.64"/><rect x="1619.39"/><rect x="1621.13"/><rect x="1622.88"/><rect x="1624.63"/><rect x="1626.37"/><rect x="1628.12"/><rect x="1629.87"/><rect x="1631.61"/><rect x="1633.36"/><rect x="1635.11"/><rect x="1636.85"/><rect x="1638.6"/><rect x="1642.09"/><rect x="1643.84"/><rect x="1645.59"/><rect x="1647.33"/><rect x="1649.08"/><rect x="1650.83"/><rect x="1652.58"/><rect x="1654.32"/><rect x="1656.07"/><rect x="1657.82"/><rect x="1659.56"/><rect x="1661.31"/><rect x="1663.06"/><rect x="1664.8"/><rect x="1666.55"/><rect x="1668.3"/><rect x="1670.04"/><rect x="1671.79"/><rect x="1673.54"/><rect x="1675.28"/><rect x="1677.03"/><rect x="1678.78"/><rect x="1680.52"/><rect x="1682.27"/><rect x="1684.02"/><rect x="1685.76"/><rect x="1687.51"/><rect x="1689.26"/><rect x="1691"/><rect x="1692.75"/><rect x="1694.5"/><rect x="1696.25"/><rect x="1697.99"/><rect x="1699.74"/><rect class="d" x="1704.98"/><rect x="1706.73"/><rect x="1708.47"/><rect x="1710.22"/><rect x="1711.97"/><rect x="1713.71"/><rect x="1715.46"/><rect x="1717.21"/><rect x="1718.95"/><rect x="1720.7"/><rect x="1722.45"/><rect x="1724.19"/><rect x="1725.94"/><rect x="1727.69"/><rect x="1729.43"/><rect x="1731.18"/><rect class="d" x="1732.93"/><rect class="d" x="1734.67"/><rect x="1736.42"/><rect x="1738.17"/><rect x="1739.92"/><rect class="d" x="1741.66"/><rect x="1743.41"/><rect x="1745.16"/><rect x="1746.9"/><rect x="1748.65"/><rect x="1750.4"/><rect x="1752.14"/><rect x="1753.89"/><rect x="1755.64"/><rect x="1757.38"/><rect x="1759.13"/><rect x="1760.88"/><rect x="1762.62"/><rect x="1764.37"/><rect x="1767.86"/><rect x="1769.61"/><rect class="d" x="1771.36"/><rect x="1773.1"/><rect x="1774.85"/><rect x="1776.6"/><rect x="1778.34"/><rect x="1780.09"/><rect x="1781.84"/><rect x="1783.59"/><rect x="1785.33"/><rect x="1787.08"/><rect x="1788.83"/><rect x="1790.57"/><rect x="1792.32"/><rect x="1794.07"/><rect x="1795.81"/><rect x="1797.56"/><rect x="1799.31"/><rect x="1801.05"/><rect x="1802.8"/><rect x="1804.55"/><rect x="1806.29"/><rect x="1808.04"/><rect x="1809.79"/><rect class="d" x="1811.53"/><rect x="1813.28"/><rect x="1815.03"/><rect x="1816.77"/><rect x="1818.52"/><rect x="1820.27"/><rect x="1822.01"/><rect x="1823.76"/><rect x="1825.51"/><rect x="1827.26"/><rect x="1830.75"/><rect x="1832.5"/><rect x="1834.24"/><rect x="1835.99"/><rect x="1837.74"/><rect class="d" x="1839.48"/><rect x="1841.23"/><rect x="1842.98"/><rect class="d" x="1844.72"/><rect x="1846.47"/><rect x="1848.22"/><rect x="1849.96"/><rect x="1851.71"/><rect x="1853.46"/><rect x="1855.2"/><rect x="1856.95"/><rect x="1858.7"/><rect x="1860.44"/><rect x="1862.19"/><rect x="1863.94"/><rect x="1865.68"/><rect x="1867.43"/><rect x="1869.18"/><rect x="1870.93"/><rect x="1872.67"/><rect x="1874.42"/><rect x="1876.17"/><rect x="1879.66"/><rect x="1881.41"/><rect x="1883.15"/><rect x="1884.9"/><rect x="1886.65"/><rect x="1888.39"/></g>
<g class="c" transform="translate(0,1130.66)"><rect x="361.69"/><rect x="363.44"/><rect x="365.18"/><rect x="366.93"/><rect x="368.68"/><rect x="370.42"/><rect x="372.17"/><rect x="373.92"/><rect x="375.66"/><rect x="377.41"/><rect x="379.16"/><rect x="380.9"/><rect x="382.65"/><rect x="384.4"/><rect x="386.15"/><rect x="387.89"/><rect x="389.64"/><rect x="391.39"/><rect x="393.13"/><rect x="394.88"/><rect x="396.63"/><rect class="d" x="398.37"/><rect x="400.12"/><rect x="401.87"/><rect x="403.61"/><rect x="405.36"/><rect x="407.11"/><rect x="408.85"/><rect x="410.6"/><rect class="d" x="412.35"/><rect x="414.09"/><rect x="415.84"/><rect x="417.59"/><rect x="419.33"/><rect x="421.08"/><rect x="422.83"/><rect x="424.57"/><rect x="426.32"/><rect x="428.07"/><rect x="429.82"/><rect x="431.56"/><rect x="433.31"/><rect x="435.06"/><rect x="436.8"/><rect x="438.55"/><rect class="d" x="440.3"/><rect class="d" x="442.04"/><rect x="443.79"/><rect x="445.54"/><rect x="447.28"/><rect x="449.03"/><rect x="450.78"/><rect x="452.52"/><rect class="d" x="454.27"/><rect x="456.02"/><rect x="457.76"/><rect class="d" x="459.51"/><rect x="461.26"/><rect x="463"/><rect x="464.75"/><rect x="466.5"/><rect x="468.24"/><rect x="469.99"/><rect class="d" x="471.74"/><rect class="d" x="473.49"/><rect x="475.23"/><rect class="d" x="476.98"/><rect x="478.73"/><rect x="480.47"/><rect x="482.22"/><rect x="483.97"/><rect x="485.71"/><rect x="487.46"/><rect x="489.21"/><rect x="490.95"/><rect class="d" x="492.7"/><rect x="494.45"/><rect x="496.19"/><rect x="497.94"/><rect x="499.69"/><rect x="501.43"/><rect x="503.18"/><rect x="504.93"/><rect x="506.67"/><rect x="508.42"/><rect x="510.17"/><rect x="511.91"/><rect x="513.66"/><rect x="515.41"/><rect x="517.16"/><rect x="518.9"/><rect x="520.65"/><rect x="522.4"/><rect x="524.14"/><rect x="525.89"/><rect class="d" x="527.64"/><rect x="529.38"/><rect x="531.13"/><rect x="532.88"/><rect x="534.62"/><rect x="536.37"/><rect x="539.86"/><rect x="541.61"/><rect x="543.36"/><rect x="545.1"/><rect x="546.85"/><rect x="548.6"/><rect x="550.34"/><rect x="552.09"/><rect x="555.58"/><rect x="557.33"/><rect x="559.08"/><rect x="560.83"/><rect x="562.57"/><rect x="564.32"/><rect x="566.07"/><rect x="567.81"/><rect x="569.56"/><rect class="d" x="571.31"/><rect x="573.05"/><rect class="d" x="574.8"/><rect class="d" x="576.55"/><rect class="d" x="578.29"/><rect class="d" x="580.04"/><rect class="d" x="581.79"/><rect class="d" x="583.53"/><rect class="d" x="585.28"/><rect x="587.03"/><rect class="d" x="588.77"/><rect class="d" x="590.52"/><rect class="d" x="592.27"/><rect x="594.01"/><rect x="595.76"/><rect x="597.51"/><rect x="599.25"/><rect x="601"/><rect x="602.75"/><rect x="604.5"/><rect x="606.24"/><rect x="607.99"/><rect x="609.74"/><rect x="611.48"/><rect x="613.23"/><rect x="614.98"/><rect x="616.72"/><rect x="618.47"/><rect x="620.22"/><rect x="621.96"/><rect x="623.71"/><rect x="625.46"/><rect x="627.2"/><rect x="628.95"/><rect x="630.7"/><rect class="d" x="632.44"/><rect x="634.19"/><rect x="635.94"/><rect x="637.68"/><rect x="639.43"/><rect x="641.18"/><rect x="642.92"/><rect x="644.67"/><rect x="646.42"/><rect x="648.17"/><rect x="649.91"/><rect x="651.66"/><rect x="653.41"/><rect x="655.15"/><rect x="656.9"/><rect x="658.65"/><rect x="660.39"/><rect x="662.14"/><rect x="663.89"/><rect x="665.63"/><rect x="667.38"/><rect x="669.13"/><rect x="670.87"/><rect x="672.62"/><rect x="674.37"/><rect x="676.11"/><rect x="677.86"/><rect x="679.61"/><rect x="681.35"/><rect x="683.1"/><rect x="684.85"/><rect x="686.59"/><rect x="688.34"/><rect x="690.09"/><rect x="691.84"/><rect x="693.58"/><rect x="695.33"/><rect x="697.08"/><rect x="698.82"/><rect x="700.57"/><rect x="702.32"/><rect x="704.06"/><rect x="705.81"/><rect x="707.56"/><rect x="709.3"/><rect x="711.05"/><rect x="712.8"/><rect x="714.54"/><rect x="716.29"/><rect x="718.04"/><rect x="719.78"/><rect x="721.53"/><rect x="723.28"/><rect x="725.02"/><rect x="726.77"/><rect x="728.52"/><rect x="730.26"/><rect x="732.01"/><rect x="733.76"/><rect x="735.51"/><rect x="737.25"/><rect x="739"/><rect x="740.75"/><rect x="742.49"/><rect x="744.24"/><rect x="745.99"/><rect x="747.73"/><rect x="749.48"/><rect x="751.23"/><rect x="752.97"/><rect x="754.72"/><rect x="756.47"/><rect x="758.21"/><rect x="759.96"/><rect x="761.71"/><rect x="763.45"/><rect x="765.2"/><rect x="766.95"/><rect x="768.69"/><rect x="770.44"/><rect x="772.19"/><rect x="773.93"/><rect x="775.68"/><rect x="777.43"/><rect x="779.18"/><rect x="780.92"/><rect x="782.67"/><rect x="784.42"/><rect x="786.16"/><rect x="789.66"/><rect x="791.4"/><rect x="793.15"/><rect x="794.9"/><rect x="796.64"/><rect x="798.39"/><rect x="800.14"/><rect x="801.88"/><rect x="803.63"/><rect x="805.38"/><rect x="807.12"/><rect x="808.87"/><rect x="810.62"/><rect x="812.36"/><rect x="814.11"/><rect x="815.86"/><rect x="817.6"/><rect x="819.35"/><rect x="821.1"/><rect x="822.85"/><rect x="824.59"/><rect x="826.34"/><rect x="828.09"/><rect x="829.83"/><rect x="831.58"/><rect x="833.33"/><rect x="835.07"/><rect x="836.82"/><rect x="838.57"/><rect x="840.31"/><rect x="842.06"/><rect x="843.81"/><rect x="845.55"/><rect x="847.3"/><rect x="849.05"/><rect x="850.79"/><rect x="852.54"/><rect x="854.29"/><rect x="856.03"/><rect x="857.78"/><rect x="859.53"/><rect x="861.27"/><rect x="863.02"/><rect x="864.77"/><rect x="866.52"/><rect x="868.26"/><rect x="870.01"/><rect x="871.76"/><rect x="873.5"/><rect x="875.25"/><rect x="877"/><rect x="878.74"/><rect x="880.49"/><rect x="882.24"/><rect x="883.98"/><rect x="885.73"/><rect x="887.48"/><rect x="889.22"/><rect x="890.97"/><rect x="892.72"/><rect x="894.46"/><rect x="896.21"/><rect x="897.96"/><rect x="899.7"/><rect x="901.45"/><rect x="903.2"/><rect x="904.94"/><rect x="906.69"/><rect x="908.44"/><rect x="910.19"/><rect x="911.93"/><rect x="913.68"/><rect x="915.43"/><rect x="917.17"/><rect x="918.92"/><rect x="920.67"/><rect x="922.41"/><rect x="924.16"/><rect x="925.91"/><rect x="927.65"/><rect x="929.4"/><rect x="931.15"/><rect x="932.89"/><rect x="934.64"/><rect x="936.39"/><rect x="938.13"/><rect x="939.88"/><rect x="941.63"/><rect x="943.37"/><rect x="945.12"/><rect x="946.87"/><rect x="948.61"/><rect x="950.36"/><rect x="952.11"/><rect x="953.86"/><rect x="955.6"/><rect x="957.35"/><rect x="959.1"/><rect x="960.84"/><rect x="962.59"/><rect x="964.34"/><rect x="966.08"/><rect x="967.83"/><rect x="969.58"/><rect x="971.32"/><rect x="973.07"/><rect x="974.82"/><rect x="976.56"/><rect x="978.31"/><rect x="980.06"/><rect x="981.8"/><rect x="983.55"/><rect x="985.3"/><rect x="987.04"/><rect x="988.79"/><rect x="990.54"/><rect x="992.28"/><rect x="994.03"/><rect x="995.78"/><rect x="997.53"/><rect x="999.27"/><rect x="1001.02"/><rect x="1002.77"/><rect x="1004.51"/><rect x="1006.26"/><rect x="1008.01"/><rect x="1009.75"/><rect x="1011.5"/><rect x="1013.25"/><rect x="1014.99"/><rect x="1016.74"/><rect x="1018.49"/><rect x="1020.23"/><rect x="1021.98"/><rect x="1023.73"/><rect x="1025.47"/><rect x="1027.22"/><rect x="1028.97"/><rect x="1030.71"/><rect x="1032.46"/><rect x="1034.21"/><rect x="1035.95"/><rect x="1037.7"/><rect x="1039.45"/><rect x="1041.2"/><rect x="1042.94"/><rect x="1044.69"/><rect x="1046.44"/><rect x="1048.18"/><rect x="1049.93"/><rect x="1051.68"/><rect x="1053.42"/><rect x="1055.17"/><rect x="1056.92"/><rect x="1058.66"/><rect x="1060.41"/><rect x="1062.16"/><rect x="1063.9"/><rect x="1065.65"/><rect x="1067.4"/><rect x="1069.14"/><rect class="d" x="1070.89"/><rect x="1072.64"/><rect x="1074.38"/><rect x="1076.13"/><rect x="1077.88"/><rect x="1079.62"/><rect x="1081.37"/><rect x="1083.12"/><rect x="1084.87"/><rect x="1086.61"/><rect x="1088.36"/><rect x="1090.11"/><rect x="1091.85"/><rect x="1093.6"/><rect x="1095.35"/><rect x="1097.09"/><rect x="1098.84"/><rect x="1100.59"/><rect x="1102.33"/><rect x="1104.08"/><rect x="1105.83"/><rect x="1107.57"/><rect x="1109.32"/><rect x="1111.07"/><rect x="1112.81"/><rect x="1114.56"/><rect x="1116.31"/><rect x="1118.05"/><rect x="1119.8"/><rect x="1121.55"/><rect x="1123.29"/><rect x="1125.04"/><rect x="1126.79"/><rect x="1128.54"/><rect x="1130.28"/><rect x="1132.03"/><rect x="1133.78"/><rect x="1135.52"/><rect x="1137.27"/><rect x="1139.02"/><rect x="1140.76"/><rect x="1142.51"/><rect x="1144.26"/><rect x="1146"/><rect x="1147.75"/><rect x="1149.5"/><rect x="1151.24"/><rect x="1152.99"/><rect x="1154.74"/><rect x="1156.48"/><rect x="1158.23"/><rect x="1159.98"/><rect x="1161.72"/><rect x="1163.47"/><rect x="1165.22"/><rect x="1166.96"/><rect x="1168.71"/><rect x="1170.46"/><rect x="1172.21"/><rect x="1173.95"/><rect x="1175.7"/><rect x="1177.45"/><rect x="1179.19"/><rect x="1180.94"/><rect x="1182.69"/><rect x="1184.43"/><rect x="1186.18"/><rect x="1187.93"/><rect x="1189.67"/><rect x="1191.42"/><rect x="1193.17"/><rect x="1194.91"/><rect x="1196.66"/><rect x="1198.41"/><rect x="1200.15"/><rect x="1201.9"/><rect x="1203.65"/><rect x="1205.39"/><rect x="1207.14"/><rect x="1208.89"/><rect x="1210.63"/><rect x="1212.38"/><rect x="1214.13"/><rect x="1215.88"/><rect x="1217.62"/><rect x="1219.37"/><rect x="1221.12"/><rect x="1222.86"/><rect x="1224.61"/><rect x="1226.36"/><rect x="1228.1"/><rect x="1229.85"/><rect x="1231.6"/><rect x="1233.34"/><rect x="1235.09"/><rect x="1236.84"/><rect x="1238.58"/><rect x="1240.33"/><rect x="1242.08"/><rect x="1243.82"/><rect x="1245.57"/><rect x="1247.32"/><rect x="1249.06"/><rect x="1250.81"/><rect x="1252.56"/><rect x="1254.3"/><rect x="1256.05"/><rect x="1257.8"/><rect x="1259.55"/><rect x="1261.29"/><rect x="1263.04"/><rect x="1264.79"/><rect x="1266.53"/><rect x="1268.28"/><rect x="1270.03"/><rect x="1271.77"/><rect x="1273.52"/><rect x="1275.27"/><rect x="1277.01"/><rect x="1278.76"/><rect x="1280.51"/><rect x="1282.25"/><rect x="1284"/><rect x="1285.75"/><rect x="1287.49"/><rect x="1289.24"/><rect x="1290.99"/><rect x="1292.73"/><rect x="1294.48"/><rect x="1296.23"/><rect x="1297.97"/><rect x="1299.72"/><rect x="1301.47"/><rect x="1303.22"/><rect x="1304.96"/><rect x="1306.71"/><rect x="1308.46"/><rect x="1310.2"/><rect x="1311.95"/><rect x="1313.7"/><rect x="1315.44"/><rect x="1317.19"/><rect x="1318.94"/><rect x="1320.68"/><rect x="1322.43"/><rect x="1324.18"/><rect x="1325.92"/><rect x="1327.67"/><rect x="1329.42"/><rect x="1331.16"/><rect x="1332.91"/><rect x="1334.66"/><rect x="1336.4"/><rect x="1338.15"/><rect x="1339.9"/><rect x="1341.64"/><rect x="1343.39"/><rect x="1345.14"/><rect x="1346.89"/><rect x="1348.63"/><rect x="1350.38"/><rect x="1352.13"/><rect x="1353.87"/><rect x="1355.62"/><rect x="1357.37"/><rect x="1359.11"/><rect x="1360.86"/><rect x="1362.61"/><rect x="1364.35"/><rect x="1366.1"/><rect x="1367.85"/><rect x="1369.59"/><rect x="1371.34"/><rect x="1380.07"/><rect x="1381.82"/><rect x="1387.06"/><rect x="1388.81"/><rect x="1390.56"/><rect x="1394.05"/><rect x="1395.8"/><rect x="1397.54"/><rect x="1399.29"/><rect x="1401.04"/><rect x="1402.78"/><rect x="1404.53"/><rect x="1406.28"/><rect x="1408.02"/><rect x="1409.77"/><rect x="1411.52"/><rect x="1413.26"/><rect x="1415.01"/><rect x="1416.76"/><rect x="1418.5"/><rect x="1420.25"/><rect x="1422"/><rect x="1423.74"/><rect x="1425.49"/><rect x="1427.24"/><rect x="1428.98"/><rect x="1430.73"/><rect x="1432.48"/><rect x="1434.23"/><rect x="1435.97"/><rect x="1437.72"/><rect x="1439.47"/><rect x="1441.21"/><rect x="1442.96"/><rect x="1444.71"/><rect x="1446.45"/><rect x="1448.2"/><rect x="1449.95"/><rect x="1451.69"/><rect x="1453.44"/><rect x="1460.43"/><rect x="1462.17"/><rect x="1463.92"/><rect x="1465.67"/><rect x="1467.41"/><rect x="1469.16"/><rect x="1470.91"/><rect x="1474.4"/><rect x="1476.15"/><rect x="1477.9"/><rect x="1479.64"/><rect x="1481.39"/><rect x="1483.14"/><rect x="1484.88"/><rect x="1486.63"/><rect x="1488.38"/><rect x="1490.12"/><rect x="1491.87"/><rect x="1493.62"/><rect x="1495.36"/><rect x="1497.11"/><rect x="1498.86"/><rect x="1500.6"/><rect x="1502.35"/><rect x="1504.1"/><rect x="1505.84"/><rect x="1507.59"/><rect x="1509.34"/><rect x="1511.08"/><rect x="1512.83"/><rect x="1514.58"/><rect x="1516.32"/><rect x="1518.07"/><rect x="1519.82"/><rect x="1521.57"/><rect x="1523.31"/><rect x="1525.06"/><rect x="1526.81"/><rect x="1528.55"/><rect x="1530.3"/><rect x="1532.05"/><rect x="1533.79"/><rect x="1535.54"/><rect x="1537.29"/><rect x="1539.03"/><rect x="1540.78"/><rect x="1542.53"/><rect x="1544.27"/><rect x="1546.02"/><rect x="1547.77"/><rect x="1549.51"/><rect x="1551.26"/><rect x="1553.01"/><rect x="1554.75"/><rect x="1556.5"/><rect x="1558.25"/><rect x="1559.99"/><rect x="1561.74"/><rect x="1563.49"/><rect x="1565.24"/><rect x="1566.98"/><rect x="1568.73"/><rect x="1570.48"/><rect x="1572.22"/><rect x="1573.97"/><rect x="1575.72"/><rect x="1577.46"/><rect x="1579.21"/><rect x="1580.96"/><rect x="1582.7"/><rect x="1584.45"/><rect x="1586.2"/><rect x="1587.94"/><rect x="1589.69"/><rect x="1591.44"/><rect x="1593.18"/><rect x="1594.93"/><rect x="1596.68"/><rect x="1598.42"/><rect x="1600.17"/><rect x="1601.92"/><rect x="1603.66"/><rect x="1605.41"/><rect x="1607.16"/><rect x="1608.91"/><rect x="1610.65"/><rect x="1612.4"/><rect x="1614.15"/><rect x="1615.89"/><rect x="1617.64"/><rect x="1619.39"/><rect x="1621.13"/><rect x="1622.88"/><rect x="1624.63"/><rect x="1626.37"/><rect x="1628.12"/><rect x="1629.87"/><rect x="1631.61"/><rect x="1633.36"/><rect x="1635.11"/><rect x="1636.85"/><rect x="1638.6"/><rect x="1640.35"/><rect x="1642.09"/><rect x="1643.84"/><rect x="1645.59"/><rect x="1647.33"/><rect x="1649.08"/><rect x="1650.83"/><rect x="1652.58"/><rect x="1654.32"/><rect x="1656.07"/><rect x="1657.82"/><rect x="1659.56"/><rect x="1661.31"/><rect x="1663.06"/><rect x="1664.8"/><rect x="1666.55"/><rect x="1668.3"/><rect x="1670.04"/><rect x="1671.79"/><rect x="1673.54"/><rect x="1675.28"/><rect x="1677.03"/><rect x="1678.78"/><rect x="1680.52"/><rect x="1682.27"/><rect class="d" x="1684.02"/><rect class="d" x="1685.76"/><rect x="1687.51"/><rect x="1689.26"/><rect x="1691"/><rect x="1692.75"/><rect x="1694.5"/><rect x="1696.25"/><rect x="1697.99"/><rect x="1699.74"/><rect x="1701.49"/><rect x="1703.23"/><rect x="1704.98"/><rect x="1706.73"/><rect x="1708.47"/><rect x="1710.22"/><rect x="1711.97"/><rect x="1713.71"/><rect x="1715.46"/><rect x="1717.21"/><rect x="1718.95"/><rect x="1720.7"/><rect x="1722.45"/><rect x="1724.19"/><rect x="1725.94"/><rect x="1727.69"/><rect x="1729.43"/><rect x="1731.18"/><rect x="1732.93"/><rect x="1734.67"/><rect x="1736.42"/><rect x="1738.17"/><rect x="1739.92"/><rect x="1741.66"/><rect x="1743.41"/><rect x="1745.16"/><rect x="1746.9"/><rect x="1748.65"/><rect x="1750.4"/><rect x="1752.14"/><rect x="1753.89"/><rect x="1755.64"/><rect x="1757.38"/><rect x="1759.13"/><rect x="1760.88"/><rect x="1762.62"/><rect x="1764.37"/><rect x="1766.12"/><rect x="1767.86"/><rect x="1769.61"/><rect x="1771.36"/><rect x="1773.1"/><rect x="1774.85"/><rect x="1776.6"/><rect x="1778.34"/><rect x="1780.09"/><rect x="1781.84"/><rect x="1783.59"/><rect x="1785.33"/><rect x="1787.08"/><rect x="1788.83"/><rect x="1790.57"/><rect x="1792.32"/><rect x="1794.07"/><rect x="1795.81"/><rect x="1797.56"/><rect x="1799.31"/><rect x="1801.05"/><rect x="1802.8"/><rect x="1804.55"/><rect x="1806.29"/><rect x="1808.04"/><rect x="1809.79"/><rect x="1811.53"/><rect x="1813.28"/><rect x="1815.03"/><rect x="1816.77"/><rect x="1818.52"/><rect x="1820.27"/><rect x="1822.01"/><rect x="1823.76"/><rect x="1825.51"/><rect x="1827.26"/><rect x="1829"/><rect x="1830.75"/><rect x="1832.5"/><rect x="1834.24"/><rect x="1835.99"/><rect x="1837.74"/><rect x="1839.48"/><rect x="1841.23"/><rect x="1842.98"/><rect x="1844.72"/><rect x="1846.47"/><rect x="1848.22"/><rect x="1849.96"/><rect x="1851.71"/><rect x="1853.46"/><rect x="1855.2"/><rect x="1856.95"/><rect x="1858.7"/><rect x="1860.44"/><rect x="1862.19"/><rect x="1863.94"/><rect x="1865.68"/><rect x="1867.43"/><rect x="1869.18"/><rect x="1870.93"/><rect x="1872.67"/><rect x="1874.42"/><rect x="1876.17"/><rect x="1877.91"/><rect x="1879.66"/><rect x="1881.41"/><rect x="1883.15"/><rect x="1884.9"/><rect x="1886.65"/><rect x="1888.39"/><rect x="1890.14"/><rect x="1891.89"/></g>
<rect x="360" y="184" width="1538" height="1080" rx="4" ry="4" fill="none" stroke="#636363" stroke-width="2"/>
<g class="tk"><line x1="384.4" x2="384.4" y1="1265" y2="1276"/><text x="384.4" y="1298.7">Jul</text><line x1="545.11" x2="545.11" y1="1265" y2="1276"/><text x="545.11" y="1298.7">Oct</text><line x1="705.81" x2="705.81" y1="1265" y2="1276"/><text x="705.81" y="1298.7">2023</text><line x1="863.02" x2="863.02" y1="1265" y2="1276"/><text x="863.02" y="1298.7">Apr</text><line x1="1021.98" x2="1021.98" y1="1265" y2="1276"/><text x="1021.98" y="1298.7">Jul</text><line x1="1182.69" x2="1182.69" y1="1265" y2="1276"/><text x="1182.69" y="1298.7">Oct</text><line x1="1343.39" x2="1343.39" y1="1265" y2="1276"/><text x="1343.39" y="1298.7">2024</text><line x1="1502.35" x2="1502.35" y1="1265" y2="1276"/><text x="1502.35" y="1298.7">Apr</text><line x1="1661.31" x2="1661.31" y1="1265" y2="1276"/><text x="1661.31" y="1298.7">Jul</text><line x1="1822.02" x2="1822.02" y1="1265" y2="1276"/><text x="1822.02" y="1298.7">Oct</text></g>
<text x="1129.1" y="1343.6" font-size="31.85" text-anchor="middle" fill="#000" stroke="#000" stroke-width=".35">Collection Date</text>
<g class="lab"><text class="b" x="342.2" y="236.03">Gilroy, CA</text><text x="342.2" y="262.23">(South County Regional</text><text x="342.2" y="288.43">Wastewater Authority)</text><text class="b" x="342.2" y="362.66">Oceanside, San</text><text class="b" x="342.2" y="388.86">Francisco, CA</text><text x="342.2" y="415.06">(Oceanside Water</text><text x="342.2" y="441.26">Pollution Control Plant)</text><text class="b" x="342.2" y="502.7">Palo Alto, CA</text><text x="342.2" y="528.9">(Palo Alto Regional Water</text><text x="342.2" y="555.1">Quality Control Plant)</text><text class="b" x="342.2" y="636.03">Redwood City, CA</text><text x="342.2" y="662.23">(Silicon Valley Clean</text><text x="342.2" y="688.43">Water)</text><text class="b" x="342.2" y="762.66">Sacramento, CA</text><text x="342.2" y="788.86">(Sacramento Regional</text><text x="342.2" y="815.06">Wastewater Treatment</text><text x="342.2" y="841.26">Plant)</text><text class="b" x="342.2" y="896">San Jose, CA</text><text x="342.2" y="922.2">(San Jose-Santa Clara</text><text x="342.2" y="948.39">Regional Wastewater</text><text x="342.2" y="974.6">Facility)</text><text class="b" x="342.2" y="1029.33">Southeast San</text><text class="b" x="342.2" y="1055.53">Francisco, CA</text><text x="342.2" y="1081.73">(Southeast San</text><text x="342.2" y="1107.93">Francisco)</text><text class="b" x="342.2" y="1169.36">Sunnyvale, CA</text><text x="342.2" y="1195.56">(City of Sunnyvale Water</text><text x="342.2" y="1221.76">Pollution Control Plant)</text></g>
<g class="leg"><text x="359.9" y="1394.2">Level:</text><rect x="436.3" y="1374" width="16" height="24" fill="#b2c1e4"/><text x="466.7" y="1394.2">Not detected</text><rect x="623" y="1374" width="16" height="24" fill="#7a002d"/><text x="653" y="1394.2">Detected</text></g>
</svg>
</body></html>
